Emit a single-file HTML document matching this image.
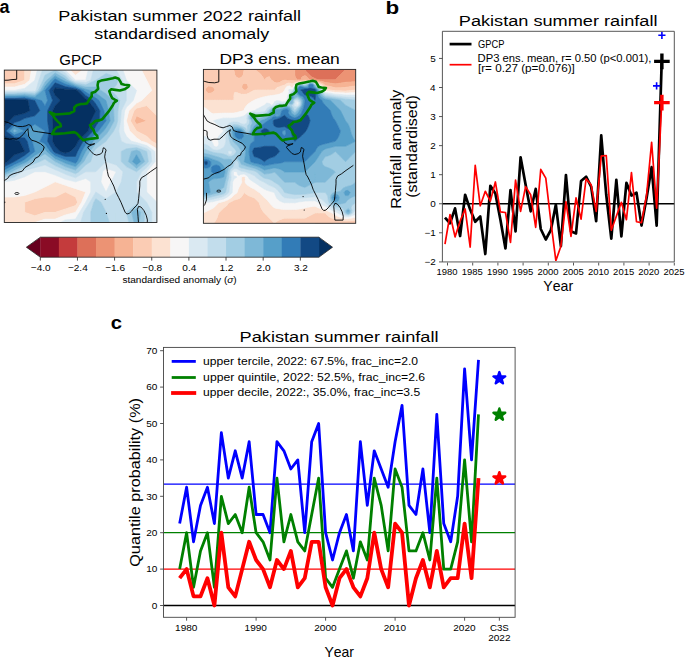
<!DOCTYPE html><html><head><meta charset="utf-8"><title>Pakistan summer 2022 rainfall</title><style>
html,body{margin:0;padding:0;background:#fff;width:685px;height:657px;overflow:hidden}
svg{display:block}
text{font-family:"Liberation Sans",sans-serif;font-kerning:none;fill:#000}
</style></head><body>
<svg width="685" height="657" viewBox="0 0 685 657">
<rect width="685" height="657" fill="#fff"/>
<defs>
<clipPath id="c1"><rect x="4.3" y="70.1" width="152.6" height="152.4"/></clipPath>
<clipPath id="c2"><rect x="203.4" y="69.4" width="152.3" height="153.9"/></clipPath>
<clipPath id="cb"><rect x="442.4" y="31.3" width="231.9" height="230.6"/></clipPath>
<clipPath id="cc"><rect x="163.5" y="347.4" width="351.6" height="269.9"/></clipPath>
</defs>
<g clip-path="url(#c1)">
<rect x="4.3" y="70.1" width="152.6" height="152.4" fill="#f7f6f6"/>
<path d="M14.47 80.26L14.47 80.26L14.47 80.26L4.3 80.26L4.3 80.26L4.3 80.26ZM136.55 115.82L146.73 120.9L146.73 120.9L146.73 120.9L136.55 124.29L134.52 120.9ZM156.9 131.06L156.9 131.06L156.9 131.06L156.9 131.06ZM65.34 202.18L65.34 202.18L65.34 202.18L65.34 202.18Z" fill="#f6b394" stroke="#f6b394" stroke-width="0.6"/>
<path d="M14.47 70.1L24.65 70.1L24.65 70.1L24.65 80.26L24.65 80.26L14.47 83.65L4.3 83.65L4.3 80.26L14.47 80.26L14.47 80.26L14.47 80.26L4.3 80.26L4.3 70.1ZM75.51 70.1L75.51 70.1L75.51 70.1L75.51 70.1ZM156.9 70.1L156.9 80.26L156.9 80.26L156.9 80.26L156.9 70.1ZM156.9 100.58L156.9 100.58L156.9 100.58L156.9 100.58ZM136.55 108.2L146.73 105.66L151.81 110.74L156.9 115.82L156.9 120.9L156.9 131.06L156.9 131.06L156.9 131.06L156.9 141.22L156.9 143.76L151.81 141.22L146.73 136.14L136.55 131.06L136.55 131.06L130.45 120.9L134.01 110.74ZM134.52 120.9L136.55 124.29L146.73 120.9L146.73 120.9L146.73 120.9L136.55 115.82ZM65.34 192.02L65.34 192.02L75.51 197.1L77.55 202.18L75.51 205.57L65.34 208.95L55.17 212.34L55.17 212.34L44.99 212.34L34.82 215.73L24.65 212.34L24.65 212.34L24.65 202.18L24.65 202.18L34.82 198.79L44.99 197.1L55.17 197.1L65.34 192.02ZM65.34 202.18L65.34 202.18L65.34 202.18L65.34 202.18Z" fill="#fbccb4" stroke="#fbccb4" stroke-width="0.6"/>
<path d="M29.73 80.26L24.65 84.32L14.47 87.03L4.3 87.03L4.3 83.65L14.47 83.65L24.65 80.26L24.65 80.26L24.65 70.1L31.43 70.1ZM75.51 70.1L75.51 70.1L82.3 70.1L75.51 75.18L70.43 70.1L75.51 70.1ZM146.73 70.1L156.9 70.1L156.9 80.26L156.9 80.26L156.9 90.42L156.9 100.58L156.9 100.58L156.9 100.58L156.9 110.74L156.9 115.82L151.81 110.74L146.73 105.66L136.55 108.2L134.01 110.74L130.45 120.9L136.55 131.06L136.55 131.06L146.73 136.14L151.81 141.22L156.9 143.76L156.9 148.84L146.73 142.67L141.64 141.22L136.55 137.83L129.77 131.06L126.38 120.9L126.38 120.9L126.38 120.9L128.92 110.74L136.55 103.12L141.64 100.58L146.73 95.5L151.81 90.42L146.73 80.26L146.73 80.26L141.64 70.1ZM156.9 171.7L156.9 171.7L156.9 171.7L156.9 171.7ZM55.17 181.86L55.17 181.86L65.34 185.25L75.51 188.63L85.69 192.02L85.69 192.02L85.69 192.02L81.62 202.18L75.51 212.34L75.51 212.34L65.34 214.88L55.17 219.11L44.99 219.11L34.82 222.5L34.82 222.5L24.65 222.5L14.47 222.5L4.3 222.5L4.3 212.34L4.3 202.18L4.3 197.1L14.47 197.1L24.65 195.41L34.82 192.02L34.82 192.02L44.99 186.94L55.17 181.86ZM65.34 192.02L55.17 197.1L44.99 197.1L34.82 198.79L24.65 202.18L24.65 202.18L24.65 212.34L24.65 212.34L34.82 215.73L44.99 212.34L55.17 212.34L55.17 212.34L65.34 208.95L75.51 205.57L77.55 202.18L75.51 197.1L65.34 192.02L65.34 192.02Z" fill="#fce2d2" stroke="#fce2d2" stroke-width="0.6"/>
<path d="M34.82 70.1L37.36 70.1L34.82 80.26L34.82 80.26L24.65 88.39L14.47 90.42L14.47 90.42L4.3 90.42L4.3 90.42L4.3 87.03L14.47 87.03L24.65 84.32L29.73 80.26L31.43 70.1ZM65.34 70.1L70.43 70.1L75.51 75.18L82.3 70.1L85.69 70.1L88.23 70.1L85.69 80.26L85.69 80.26L75.51 80.26L75.51 80.26L65.34 70.1L65.34 70.1ZM126.38 70.1L136.55 70.1L141.64 70.1L146.73 80.26L146.73 80.26L151.81 90.42L146.73 95.5L141.64 100.58L136.55 103.12L128.92 110.74L126.38 120.9L126.38 120.9L126.38 120.9L129.77 131.06L136.55 137.83L141.64 141.22L146.73 142.67L156.9 148.84L156.9 151.38L156.9 161.54L156.9 171.7L156.9 171.7L156.9 171.7L156.9 181.86L156.9 192.02L156.9 202.18L156.9 202.18L156.9 202.18L146.73 192.02L146.73 192.02L146.73 181.86L146.73 171.7L146.73 171.7L155.2 161.54L154.87 151.38L146.73 145.57L136.55 142.49L131.47 141.22L126.38 136.14L123.84 131.06L123.47 120.9L124.68 110.74L126.38 107.35L133.16 100.58L136.55 90.42L126.38 80.26L126.38 80.26L122.99 70.1ZM34.82 171.7L44.99 171.7L44.99 171.7L55.17 175.09L65.34 179.32L75.51 181.86L85.69 178.47L90.77 181.86L90.77 192.02L85.69 202.18L85.69 202.18L79.58 212.34L75.51 219.11L65.34 219.96L60.25 222.5L55.17 222.5L44.99 222.5L34.82 222.5L44.99 219.11L55.17 219.11L65.34 214.88L75.51 212.34L75.51 212.34L81.62 202.18L85.69 192.02L85.69 192.02L85.69 192.02L75.51 188.63L65.34 185.25L55.17 181.86L55.17 181.86L55.17 181.86L44.99 186.94L34.82 192.02L34.82 192.02L24.65 195.41L14.47 197.1L4.3 197.1L4.3 192.02L4.3 181.86L4.3 181.86L14.47 180.17L24.65 176.78L34.82 171.7ZM106.03 168.31L116.21 171.7L116.21 171.7L116.21 171.7L111.12 181.86L106.03 192.02L106.03 192.02L106.03 192.02L100.95 181.86L102.64 171.7Z" fill="#f7f6f6" stroke="#f7f6f6" stroke-width="0.6"/>
<path d="M38.89 80.26L35.95 90.42L34.82 91.34L24.65 91.15L14.47 91.77L4.3 91.77L4.3 90.42L14.47 90.42L14.47 90.42L24.65 88.39L34.82 80.26L34.82 80.26L37.36 70.1L42.45 70.1ZM65.34 70.1L75.51 80.26L75.51 80.26L85.69 80.26L85.69 80.26L88.23 70.1L93.32 70.1L90.77 80.26L85.69 82.52L75.51 81.61L72.61 80.26L65.34 73L60.25 70.1L65.34 70.1ZM116.21 70.1L122.99 70.1L126.38 80.26L126.38 80.26L136.55 90.42L133.16 100.58L126.38 107.35L124.68 110.74L123.47 120.9L123.84 131.06L126.38 136.14L131.47 141.22L136.55 142.49L146.73 145.57L154.87 151.38L155.2 161.54L146.73 171.7L146.73 171.7L146.73 181.86L146.73 192.02L146.73 192.02L156.9 202.18L156.9 202.18L156.9 212.34L156.9 222.5L151.81 222.5L151.81 212.34L146.73 202.18L146.73 202.18L136.55 192.02L136.55 192.02L136.55 181.86L136.55 181.86L141.64 171.7L146.73 167.64L151.81 161.54L150.8 151.38L146.73 148.48L136.55 145.03L126.38 143.76L121.29 141.22L118.75 131.06L120.57 120.9L121.29 110.74L126.38 100.58L126.38 90.42L122.31 80.26L116.21 70.1L116.21 70.1ZM106.03 151.38L106.03 151.38L106.03 161.54L116.21 164.93L122.99 171.7L121.29 181.86L116.21 192.02L116.21 192.02L106.03 198.79L95.86 192.02L89.76 202.18L85.69 208.95L83.65 212.34L80.6 222.5L75.51 222.5L65.34 222.5L60.25 222.5L65.34 219.96L75.51 219.11L79.58 212.34L85.69 202.18L85.69 202.18L90.77 192.02L90.77 181.86L85.69 178.47L75.51 181.86L65.34 179.32L55.17 175.09L44.99 171.7L44.99 171.7L34.82 171.7L34.82 171.7L24.65 176.78L14.47 180.17L4.3 181.86L4.3 179.6L14.47 176.78L22.1 171.7L24.65 170.43L34.82 167.64L44.99 164.93L55.17 169.67L60.25 171.7L65.34 174.24L75.51 177.8L85.69 171.7L85.69 171.7L95.86 171.7L106.03 161.54L106.03 151.38ZM102.64 171.7L100.95 181.86L106.03 192.02L106.03 192.02L106.03 192.02L111.12 181.86L116.21 171.7L116.21 171.7L116.21 171.7L106.03 168.31ZM116.21 212.34L116.21 212.34L116.21 222.5L116.21 222.5L116.21 222.5L116.21 212.34Z" fill="#dae9f2" stroke="#dae9f2" stroke-width="0.6"/>
<path d="M44.99 70.1L55.17 70.1L60.25 70.1L65.34 73L72.61 80.26L75.51 81.61L85.69 82.52L90.77 80.26L93.32 70.1L95.86 70.1L106.03 70.1L116.21 70.1L116.21 70.1L122.31 80.26L126.38 90.42L126.38 100.58L121.29 110.74L120.57 120.9L118.75 131.06L121.29 141.22L126.38 143.76L136.55 145.03L146.73 148.48L150.8 151.38L151.81 161.54L146.73 167.64L141.64 171.7L136.55 181.86L136.55 181.86L136.55 192.02L136.55 192.02L146.73 202.18L146.73 202.18L151.81 212.34L151.81 222.5L146.73 222.5L144.18 222.5L144.69 212.34L136.55 204.21L126.38 212.34L128.92 222.5L126.38 222.5L116.21 222.5L116.21 212.34L116.21 212.34L116.21 212.34L116.21 222.5L109.42 222.5L106.03 212.34L106.03 212.34L100.95 202.18L95.86 198.79L93.83 202.18L90.77 212.34L90.77 222.5L85.69 222.5L80.6 222.5L83.65 212.34L85.69 208.95L89.76 202.18L95.86 192.02L106.03 198.79L116.21 192.02L116.21 192.02L121.29 181.86L122.99 171.7L116.21 164.93L106.03 161.54L106.03 151.38L106.03 151.38L106.03 151.38L106.03 161.54L95.86 171.7L85.69 171.7L85.69 171.7L75.51 177.8L65.34 174.24L60.25 171.7L55.17 169.67L44.99 164.93L34.82 167.64L24.65 170.43L22.1 171.7L14.47 176.78L4.3 179.6L4.3 177.34L14.47 173.39L17.02 171.7L24.65 167.89L34.82 163.57L39.91 161.54L44.99 159L48.38 161.54L55.17 165.6L65.34 170.01L70.43 171.7L75.51 173.73L78.9 171.7L85.69 164.93L90.77 161.54L93.83 151.38L95.86 148.84L106.03 141.22L106.03 141.22L113.66 131.06L116.21 125.98L117.66 120.9L117.9 110.74L119.6 100.58L116.21 95.5L111.12 90.42L116.21 85.34L118.24 80.26L116.21 76.87L106.03 73.49L95.86 80.26L95.86 80.26L85.69 84.78L75.51 82.97L69.7 80.26L65.34 75.91L55.17 70.1L44.99 75.18L42.96 80.26L38.21 90.42L34.82 93.19L24.65 92.6L14.47 93.13L4.3 93.13L4.3 91.77L14.47 91.77L24.65 91.15L34.82 91.34L35.95 90.42L38.89 80.26L42.45 70.1ZM121.29 151.38L121.29 161.54L126.38 166.62L136.55 171.7L146.73 163.57L148.42 161.54L146.73 151.38L146.73 151.38L136.55 147.57L126.38 148.84Z" fill="#c2ddec" stroke="#c2ddec" stroke-width="0.6"/>
<path d="M44.99 75.18L55.17 70.1L65.34 75.91L69.7 80.26L75.51 82.97L85.69 84.78L95.86 80.26L95.86 80.26L106.03 73.49L116.21 76.87L118.24 80.26L116.21 85.34L111.12 90.42L116.21 95.5L119.6 100.58L117.9 110.74L117.66 120.9L116.21 125.98L113.66 131.06L106.03 141.22L106.03 141.22L95.86 148.84L93.83 151.38L90.77 161.54L85.69 164.93L78.9 171.7L75.51 173.73L70.43 171.7L65.34 170.01L55.17 165.6L48.38 161.54L44.99 159L39.91 161.54L34.82 163.57L24.65 167.89L17.02 171.7L14.47 173.39L4.3 177.34L4.3 175.09L11.93 171.7L14.47 170.25L24.65 165.35L32.28 161.54L34.82 159.51L44.99 153.92L55.17 161.54L55.17 161.54L65.34 166.62L75.51 170.01L83.99 161.54L85.69 158.15L89.76 151.38L95.86 143.76L99.25 141.22L106.03 134.45L108.58 131.06L114.17 120.9L113.66 110.74L112.82 100.58L106.03 93.81L100.95 90.42L95.86 87.03L85.69 87.03L75.51 84.32L66.79 80.26L65.34 78.81L55.17 73L46.69 80.26L44.99 82.29L40.47 90.42L34.82 95.04L24.65 94.05L14.47 94.48L4.3 94.48L4.3 93.13L14.47 93.13L24.65 92.6L34.82 93.19L38.21 90.42L42.96 80.26ZM126.38 148.84L136.55 147.57L146.73 151.38L146.73 151.38L148.42 161.54L146.73 163.57L136.55 171.7L126.38 166.62L121.29 161.54L121.29 151.38ZM131.47 151.38L128.41 161.54L136.55 168.31L144.69 161.54L139.94 151.38L136.55 150.11ZM95.86 198.79L100.95 202.18L106.03 212.34L106.03 212.34L109.42 222.5L106.03 222.5L95.86 222.5L90.77 222.5L90.77 212.34L93.83 202.18ZM136.55 204.21L144.69 212.34L144.18 222.5L139.1 222.5L140.62 212.34L136.55 208.28L131.47 212.34L134.01 222.5L128.92 222.5L126.38 212.34Z" fill="#a2cde3" stroke="#a2cde3" stroke-width="0.6"/>
<path d="M55.17 73L65.34 78.81L66.79 80.26L75.51 84.32L85.69 87.03L95.86 87.03L100.95 90.42L106.03 93.81L112.82 100.58L113.66 110.74L114.17 120.9L108.58 131.06L106.03 134.45L99.25 141.22L95.86 143.76L89.76 151.38L85.69 158.15L83.99 161.54L75.51 170.01L65.34 166.62L55.17 161.54L55.17 161.54L44.99 153.92L34.82 159.51L32.28 161.54L24.65 165.35L14.47 170.25L11.93 171.7L4.3 175.09L4.3 172.83L6.84 171.7L14.47 167.35L24.65 162.81L27.19 161.54L34.82 155.44L41.6 151.38L44.99 148.84L46.69 151.38L55.17 158.64L61.95 161.54L65.34 163.23L75.51 166.62L80.6 161.54L85.69 151.38L85.69 151.38L93.32 141.22L95.86 138.68L103.49 131.06L106.03 127.67L110.1 120.9L108.58 110.74L106.03 100.58L106.03 100.58L95.86 92.96L90.77 90.42L85.69 89.29L75.51 85.68L65.34 81.53L62.8 80.26L55.17 75.91L50.08 80.26L44.99 86.36L42.73 90.42L34.82 96.89L24.65 95.5L14.47 95.84L4.3 95.84L4.3 94.48L14.47 94.48L24.65 94.05L34.82 95.04L40.47 90.42L44.99 82.29L46.69 80.26ZM14.47 129.37L17.86 131.06L14.47 132.33L12.78 131.06ZM34.82 131.06L34.82 131.06L34.82 131.06L34.82 131.06ZM136.55 150.11L139.94 151.38L144.69 161.54L136.55 168.31L128.41 161.54L131.47 151.38ZM132.48 161.54L136.55 164.93L140.62 161.54L136.55 154.77ZM136.55 208.28L140.62 212.34L139.1 222.5L136.55 222.5L134.01 222.5L131.47 212.34Z" fill="#7eb8d7" stroke="#7eb8d7" stroke-width="0.6"/>
<path d="M55.17 75.91L62.8 80.26L65.34 81.53L75.51 85.68L85.69 89.29L90.77 90.42L95.86 92.96L106.03 100.58L106.03 100.58L108.58 110.74L110.1 120.9L106.03 127.67L103.49 131.06L95.86 138.68L93.32 141.22L85.69 151.38L85.69 151.38L80.6 161.54L75.51 166.62L65.34 163.23L61.95 161.54L55.17 158.64L46.69 151.38L44.99 148.84L41.6 151.38L34.82 155.44L27.19 161.54L24.65 162.81L14.47 167.35L6.84 171.7L4.3 172.83L4.3 171.7L4.3 170.01L14.47 164.44L21.26 161.54L24.65 159.51L34.82 151.38L32.28 141.22L24.65 131.06L14.47 134.87L9.39 131.06L14.47 125.98L24.65 131.06L34.82 124.29L44.99 131.06L44.99 131.06L44.99 131.06L39.91 141.22L44.99 143.76L50.08 151.38L55.17 155.73L65.34 159.85L70.43 161.54L75.51 163.23L77.21 161.54L81.62 151.38L85.69 144.61L88.23 141.22L95.86 133.6L98.4 131.06L106.03 120.9L104 110.74L99.25 100.58L95.86 98.04L85.69 92.11L83.99 90.42L75.51 87.03L65.34 84.07L57.71 80.26L55.17 78.81L53.47 80.26L44.99 90.42L47.54 100.58L44.99 105.66L41.6 100.58L34.82 98.73L24.65 96.95L14.47 97.19L4.3 97.19L4.3 95.84L14.47 95.84L24.65 95.5L34.82 96.89L42.73 90.42L44.99 86.36L50.08 80.26ZM12.78 131.06L14.47 132.33L17.86 131.06L14.47 129.37ZM34.82 131.06L34.82 131.06L34.82 131.06L34.82 131.06ZM136.55 154.77L140.62 161.54L136.55 164.93L132.48 161.54Z" fill="#569fc9" stroke="#569fc9" stroke-width="0.6"/>
<path d="M55.17 78.81L57.71 80.26L65.34 84.07L75.51 87.03L83.99 90.42L85.69 92.11L95.86 98.04L99.25 100.58L104 110.74L106.03 120.9L98.4 131.06L95.86 133.6L88.23 141.22L85.69 144.61L81.62 151.38L77.21 161.54L75.51 163.23L70.43 161.54L65.34 159.85L55.17 155.73L50.08 151.38L44.99 143.76L39.91 141.22L44.99 131.06L44.99 131.06L44.99 131.06L34.82 124.29L24.65 131.06L14.47 125.98L9.39 131.06L14.47 134.87L24.65 131.06L32.28 141.22L34.82 151.38L24.65 159.51L21.26 161.54L14.47 164.44L4.3 170.01L4.3 166.62L14.47 161.54L14.47 161.54L24.65 155.44L29.73 151.38L27.19 141.22L24.65 137.83L14.47 137.41L6 131.06L14.47 122.59L19.56 120.9L24.65 118.36L34.82 115.82L39.91 110.74L34.82 100.58L34.82 100.58L24.65 98.4L14.47 98.55L4.3 98.55L4.3 97.19L14.47 97.19L24.65 96.95L34.82 98.73L41.6 100.58L44.99 105.66L47.54 100.58L44.99 90.42L53.47 80.26ZM49.06 90.42L52.62 100.58L47.54 110.74L47.54 120.9L49.06 131.06L47.54 141.22L53.47 151.38L55.17 152.83L65.34 156.46L75.51 156.46L77.55 151.38L83.14 141.22L85.69 138.68L93.32 131.06L95.86 125.98L99.25 120.9L99.93 110.74L95.86 103.97L93.32 100.58L85.69 95.5L80.6 90.42L75.51 88.39L65.34 86.61L55.17 82.8Z" fill="#327cb7" stroke="#327cb7" stroke-width="0.6"/>
<path d="M55.17 82.8L65.34 86.61L75.51 88.39L80.6 90.42L85.69 95.5L93.32 100.58L95.86 103.97L99.93 110.74L99.25 120.9L95.86 125.98L93.32 131.06L85.69 138.68L83.14 141.22L77.55 151.38L75.51 156.46L65.34 156.46L55.17 152.83L53.47 151.38L47.54 141.22L49.06 131.06L47.54 120.9L47.54 110.74L52.62 100.58L49.06 90.42ZM53.13 90.42L55.17 95.5L60.25 100.58L55.17 105.66L52.62 110.74L52.62 120.9L53.13 131.06L52.62 141.22L55.17 146.3L60.25 151.38L65.34 153.07L70.43 151.38L75.51 146.3L78.06 141.22L85.69 133.6L88.23 131.06L90.77 120.9L95.86 110.74L88.23 100.58L85.69 98.89L77.21 90.42L75.51 89.74L65.34 89.15L55.17 87.88ZM14.47 98.55L24.65 98.4L34.82 100.58L34.82 100.58L39.91 110.74L34.82 115.82L24.65 118.36L19.56 120.9L14.47 122.59L6 131.06L14.47 137.41L24.65 137.83L27.19 141.22L29.73 151.38L24.65 155.44L14.47 161.54L14.47 161.54L4.3 166.62L4.3 163.23L7.69 161.54L14.47 154.77L24.65 151.38L19.56 141.22L14.47 139.95L4.3 136.14L4.3 131.06L4.3 125.98L9.39 120.9L14.47 115.82L24.65 113.28L29.73 110.74L28.04 100.58L24.65 99.85L14.47 99.9L4.3 99.9L4.3 98.55Z" fill="#124984" stroke="#124984" stroke-width="0.6"/>
<path d="M55.17 87.88L65.34 89.15L75.51 89.74L77.21 90.42L85.69 98.89L88.23 100.58L95.86 110.74L90.77 120.9L88.23 131.06L85.69 133.6L78.06 141.22L75.51 146.3L70.43 151.38L65.34 153.07L60.25 151.38L55.17 146.3L52.62 141.22L53.13 131.06L52.62 120.9L52.62 110.74L55.17 105.66L60.25 100.58L55.17 95.5L53.13 90.42ZM14.47 99.9L24.65 99.85L28.04 100.58L29.73 110.74L24.65 113.28L14.47 115.82L9.39 120.9L4.3 125.98L4.3 120.9L4.3 110.74L4.3 100.58L4.3 99.9ZM14.47 139.95L19.56 141.22L24.65 151.38L14.47 154.77L7.69 161.54L4.3 163.23L4.3 161.54L4.3 151.38L4.3 141.22L4.3 136.14Z" fill="#053061" stroke="#053061" stroke-width="0.6"/>
<g fill="none" stroke="#000" stroke-width="0.9" stroke-linejoin="round">
<polyline points="16.7,69 16.7,79.3 12,79.6 8,80.2 3,80.3"/>
<polyline points="3,121.2 8.6,122.7 13.1,125 17.7,126.4 22.3,126.6 25.9,125.9 28.7,124.6 30.9,125.5 32.3,129.1 33.2,131 38.7,131.9 45.1,132.8 51.5,133.8"/>
<polyline points="3,138.3 9.5,139.2 13.1,138.7 16.8,139.2 19.5,137.8 23.2,134.6 25.9,131 27.9,128.7 28.2,131.9 28.7,136.4 31.4,140.1 36,141.5 40.5,143.7 44.2,146.9 43.3,150.1 40.5,153.8 38.7,156.5 35.1,158.4 33.2,162 29.6,164.7 25,167.5 22.3,171.1 17.7,172.5 13.1,173.9 9.5,175.7 7.7,178.4 3,181.5"/>
<polyline points="84.6,140.9 86.4,143.2 89.2,144.6 92.8,144.1 94.7,143.7 91.9,145 88.3,146.4 87.8,147.8 91,151.4 93.7,154.2 96.5,155.1 100.1,154.2 102.4,152.4 102.9,149.6 103.3,147.8 104.7,148.2 106.1,150.1 105.2,153.3 104.7,156.9 105.6,161.5 106.5,166 107.4,171.5 108.4,176.1 110.2,178.8 112,182.5 113.8,186.1 115.7,191.6 116.3,192.9 118.7,197.6 121,202.3 123.4,208.1 125.1,212.2 126.9,214 129.2,213.4 131.6,211.1 133.9,208.1 136.3,205.8 138,203.4 138.6,198.8 139.2,192.9 139.8,185.9 139.8,181.2 141.5,177.7 145.7,175.3 150.3,171.8 158,166.5"/>
<polyline points="3,201.5 5.2,202.3 3,203.5"/>
<polygon points="138.6,206.4 141,207 143.9,210.5 146.2,215.2 147.4,219.9 147.2,224 138.6,224 138,216.3 137.4,209.3"/>
</g>
<ellipse cx="16.9" cy="193.5" rx="2" ry="1" fill="none" stroke="#000" stroke-width="0.8"/>
<circle cx="105.2" cy="199.3" r="0.6" fill="#000"/>
<circle cx="106.4" cy="213.4" r="0.6" fill="#000"/>
<polygon points="49.7,112.2 55.6,114.5 62.6,114 69.7,113.4 74.3,111 74.3,107.5 76.7,105.2 81,104 83.5,104 87,103.4 89.4,99.3 91.7,96.4 91.7,92.9 95.2,91.7 98.2,88.8 97.6,85.2 98.2,81.7 101.1,80.6 107,79.4 112.8,78.2 115.2,77.6 118.7,78.8 120.4,81.7 121.6,84.1 124.5,84.7 129.2,85.2 128.1,87 124.5,89.3 119.9,90.5 115.2,89.9 111.1,89.3 109.3,91.1 110.5,94.6 112.2,98.1 115.2,99.9 116.9,100.7 114,102.8 112.8,105.2 110.5,108.7 108.1,112.2 105.2,115.7 102.3,119.2 98.8,120.4 95.2,121 92.9,123.3 90,125.1 91.7,128 93.5,129.8 94.7,133.3 97,135.7 97.6,138 91.7,138.6 87,139.2 83.5,140.3 81,138 76.7,133.3 74.3,132.1 65,133.3 56.8,133.9 52.1,133.9 54.4,129.8 56.8,127.4 60.9,126.3 60.3,123.9 57.9,121.6 55.6,119.2 53.2,115.7" fill="none" stroke="#008000" stroke-width="2.6" stroke-linejoin="round"/>
</g>
<rect x="4.3" y="70.1" width="152.6" height="152.4" fill="none" stroke="#222" stroke-width="0.9"/>
<g clip-path="url(#c2)">
<rect x="203.4" y="69.4" width="152.3" height="153.9" fill="#f7f6f6"/>
<path d="M307.47 69.4L310.01 69.4L312.55 69.4L315.09 69.4L317.62 69.4L320.16 69.4L322.7 69.4L325.24 69.4L327.78 69.4L330.32 69.4L332.86 69.4L335.39 69.4L337.93 69.4L340.47 69.4L343.01 69.4L345.55 69.4L348.08 69.4L350.62 69.4L353.16 69.4L355.7 69.4L355.7 69.4L353.16 69.4L350.62 69.4L348.08 69.4L345.55 69.4L343.01 71.96L343.01 71.97L340.47 74.53L340.47 74.53L337.93 77.09L337.93 77.09L335.39 79.66L335.39 79.66L332.86 79.66L332.86 79.66L330.32 79.66L327.78 79.66L325.24 79.66L322.7 79.66L320.16 79.65L317.62 79.45L315.09 78.56L312.55 77.3L311.93 77.09L310.01 75.43L309.24 74.53L307.47 72.65L306.52 71.97L304.94 69.4Z" fill="#dd7059" stroke="#dd7059" stroke-width="0.6"/>
<path d="M297.32 69.4L299.86 69.4L302.39 69.4L304.93 69.4L304.94 69.4L306.52 71.97L307.47 72.65L309.24 74.53L310.01 75.43L311.93 77.09L312.55 77.3L315.09 78.56L317.62 79.45L320.16 79.65L322.7 79.66L325.24 79.66L327.78 79.66L330.32 79.66L332.86 79.66L332.86 79.66L335.39 79.66L335.39 79.66L337.93 77.09L337.93 77.09L340.47 74.53L340.47 74.53L343.01 71.97L343.01 71.96L345.55 69.4L348.08 69.4L350.62 69.4L353.16 69.4L355.7 69.4L355.7 71.97L355.7 74.53L355.7 77.09L355.7 79.66L355.7 81.71L353.16 81.82L350.62 81.94L348.08 82.07L345.55 82.23L345.55 82.23L343.01 82.68L340.47 83.08L337.93 83.44L335.39 83.76L332.86 83.39L330.32 83.08L327.78 82.82L325.24 82.59L324.61 82.23L322.7 81.53L320.16 81.02L317.62 80.68L315.09 80.24L312.55 79.81L310.01 79.68L309.55 79.66L307.47 77.55L307.3 77.09L304.93 75.55L302.39 76.67L301.76 77.09L301.1 79.66L299.86 79.83L297.32 79.7L297.12 79.66L295.33 77.09L294.79 74.53L294.78 71.97L294.78 69.4Z" fill="#ec9374" stroke="#ec9374" stroke-width="0.6"/>
<path d="M205.94 69.4L208.48 69.4L211.02 69.4L213.55 69.4L213.55 69.4L213.55 69.4L211.02 69.4L208.48 69.4L205.94 69.4L203.4 69.4L203.4 69.4ZM233.86 69.4L236.4 69.4L238.94 69.4L241.47 69.4L244.01 69.4L246.55 69.4L249.09 69.4L251.63 69.4L254.17 69.4L256.7 69.4L259.24 69.4L261.78 69.4L264.32 69.4L266.86 69.4L269.4 69.4L271.94 69.4L274.47 69.4L277.01 69.4L279.55 69.4L282.09 69.4L284.63 69.4L287.16 69.4L289.7 69.4L292.24 69.4L294.78 69.4L294.78 69.4L294.78 71.97L294.79 74.53L295.33 77.09L297.12 79.66L297.32 79.7L299.86 79.83L301.1 79.66L301.76 77.09L302.39 76.67L304.93 75.55L307.3 77.09L307.47 77.55L309.55 79.66L310.01 79.68L312.55 79.81L315.09 80.24L317.62 80.68L320.16 81.02L322.7 81.53L324.61 82.23L325.24 82.59L327.78 82.82L330.32 83.08L332.86 83.39L335.39 83.76L337.93 83.44L340.47 83.08L343.01 82.68L345.55 82.23L345.55 82.23L348.08 82.07L350.62 81.94L353.16 81.82L355.7 81.71L355.7 82.23L355.7 84.79L355.7 85.82L353.16 86.14L350.62 86.5L348.08 86.9L345.55 87.36L345.55 87.36L343.01 87.51L340.47 87.64L337.93 87.76L335.39 87.87L333.7 87.36L332.86 87.12L330.32 86.5L327.78 85.97L325.24 85.52L324.61 84.79L322.7 83.39L320.16 82.39L319.65 82.22L317.62 81.72L315.09 80.95L312.55 80.3L310.01 80.16L307.47 80.32L304.93 80.02L302.39 80.6L299.86 80.76L297.32 80.85L294.78 80.82L292.24 80.52L289.7 80.54L287.16 80.39L284.63 80.09L282.09 80.86L279.79 82.23L279.55 82.33L277.01 82.9L274.59 82.23L274.47 82.18L271.94 80.18L271.12 79.66L269.61 77.09L269.4 76.53L268.07 77.09L266.86 77.42L264.35 79.66L264.32 79.67L264.31 79.66L262.86 77.09L261.78 75.56L260.94 74.53L259.24 72.82L258.23 71.97L256.7 70.87L254.17 69.4L251.63 69.4L249.09 69.4L246.55 69.45L244.01 70.3L243.53 71.97L243.35 74.53L241.69 77.09L241.47 77.27L238.94 78.15L236.4 77.11L236.38 77.09L234.64 74.53L234.45 71.97L233.86 70.16L233.52 69.4ZM244.01 83.35L246.55 83.81L247.47 84.79L248.18 87.36L246.55 89.72L245.16 89.92L244.01 90.02L243.84 89.92L241.7 87.36L242.34 84.79ZM208.48 86.12L211.02 86.28L213.32 87.36L213.55 87.6L215.03 89.92L213.55 91.34L212.23 92.49L211.02 93.01L208.48 93.31L207.02 92.49L205.94 91.05L205.34 89.92L205.94 88.43L206.66 87.36ZM315.09 223.3L317.62 223.3L320.16 223.3L322.7 223.3L325.24 223.3L327.78 223.3L330.32 223.3L332.86 223.3L332.86 223.3L332.86 223.3L330.32 223.3L327.78 223.3L325.24 223.3L322.7 223.3L320.16 223.3L317.62 223.3L315.09 223.3L315.09 223.3Z" fill="#f6b394" stroke="#f6b394" stroke-width="0.6"/>
<path d="M205.94 69.4L208.48 69.4L211.02 69.4L213.55 69.4L213.55 69.4L216.09 69.4L218.63 69.4L221.17 69.4L223.71 69.4L226.25 69.4L228.78 69.4L231.32 69.4L233.52 69.4L233.86 70.16L234.45 71.97L234.64 74.53L236.38 77.09L236.4 77.11L238.94 78.15L241.47 77.27L241.69 77.09L243.35 74.53L243.53 71.97L244.01 70.3L246.55 69.45L249.09 69.4L251.63 69.4L254.17 69.4L256.7 70.87L258.23 71.97L259.24 72.82L260.94 74.53L261.78 75.56L262.86 77.09L264.31 79.66L264.32 79.67L264.35 79.66L266.86 77.42L268.07 77.09L269.4 76.53L269.61 77.1L271.12 79.66L271.94 80.18L274.47 82.18L274.59 82.23L277.01 82.9L279.55 82.33L279.79 82.23L282.09 80.86L284.63 80.09L287.16 80.39L289.7 80.54L292.24 80.52L294.78 80.82L297.32 80.85L299.86 80.76L302.39 80.6L304.93 80.02L307.47 80.32L310.01 80.16L312.55 80.3L315.09 80.95L317.62 81.72L319.65 82.22L320.16 82.39L322.7 83.39L324.61 84.79L325.24 85.52L327.78 85.97L330.32 86.5L332.86 87.12L333.7 87.36L335.39 87.87L337.93 87.76L340.47 87.64L343.01 87.51L345.55 87.36L345.55 87.36L348.08 86.9L350.62 86.5L353.16 86.14L355.7 85.82L355.7 87.36L355.7 89.92L355.7 89.92L353.16 90.22L350.62 90.49L348.08 90.73L345.55 90.95L343.01 90.9L340.47 90.85L337.93 90.81L335.39 90.78L332.86 90.35L330.32 89.92L330.32 89.92L327.78 89.13L325.24 88.45L324.61 87.36L322.7 85.26L322.07 84.79L320.16 83.76L317.62 82.77L316.62 82.23L315.09 81.66L312.55 80.79L310.01 80.64L307.47 81.18L304.93 81.79L302.39 81.76L299.86 81.7L297.32 81.99L296.31 82.23L294.78 82.8L292.24 83.67L289.7 82.91L287.16 83.25L284.76 84.79L284.63 84.93L282.09 85.68L279.55 86.64L277.47 87.36L277.01 87.64L274.53 89.92L274.47 89.95L271.94 89.93L269.4 89.92L266.86 89.92L264.32 89.92L261.78 89.92L259.24 89.92L256.7 89.96L254.17 90.27L251.63 91.42L250 92.49L249.09 92.98L246.55 94.05L244.01 94.37L241.47 94.13L238.94 93.3L236.76 92.49L236.4 92.18L234.62 92.49L233.89 95.05L233.86 97.62L233.86 100.18L233.86 100.18L231.32 100.18L228.78 100.18L226.25 100.18L223.71 100.18L221.17 100.18L218.63 100.18L216.09 100.18L213.55 100.19L211.02 100.2L208.48 100.2L205.94 100.19L203.4 100.18L203.4 100.18L203.4 97.62L203.4 95.05L203.4 92.49L203.4 89.92L203.4 87.36L203.4 84.79L203.4 82.23L203.4 79.66L203.4 77.09L203.4 74.53L203.4 71.97L203.4 69.4ZM242.34 84.79L241.7 87.36L243.84 89.92L244.01 90.02L245.16 89.92L246.55 89.72L248.18 87.36L247.47 84.79L246.55 83.81L244.01 83.35ZM206.66 87.35L205.94 88.43L205.34 89.92L205.94 91.05L207.02 92.49L208.48 93.31L211.02 93.01L212.23 92.49L213.55 91.34L215.03 89.92L213.55 87.6L213.32 87.36L211.02 86.28L208.48 86.12ZM244.01 192.52L246.55 194.57L247.4 195.09L249.09 195.94L251.63 196.92L254.17 197.65L254.17 197.65L256.7 200.21L256.71 200.22L259.24 202.78L259.24 202.78L259.97 205.35L260.94 207.91L261.78 209.62L262.29 210.47L264.32 213.04L264.32 213.04L266.86 215.6L266.86 215.61L269.4 218.17L269.4 218.17L271.94 220.73L271.94 220.74L274.47 223.3L277.01 221.25L277.86 220.74L279.55 219.88L282.09 218.9L284.63 218.17L284.63 218.17L287.16 218.17L289.7 218.17L292.24 218.17L294.78 218.17L297.32 218.17L299.86 218.17L302.39 218.17L304.93 218.17L307.47 216.89L310.01 215.6L310.01 215.6L312.55 214.32L315.09 213.04L315.09 213.04L315.09 213.04L317.62 213.04L320.16 213.04L322.7 213.04L325.24 213.04L327.5 215.6L327.78 215.84L330.32 217.44L332.01 218.17L332.86 218.47L335.39 219.2L337.93 219.88L340.47 220.37L343.01 220.74L343.01 220.74L345.55 221.02L348.08 220.89L350.62 220.74L350.64 220.74L353.16 220.56L355.7 220.37L355.7 220.74L355.7 223.3L353.16 223.3L350.62 223.3L348.08 223.3L345.55 223.3L343.01 223.3L340.47 223.3L337.93 223.3L335.39 223.3L332.86 223.3L332.86 223.3L330.32 223.3L327.78 223.3L325.24 223.3L322.7 223.3L320.16 223.3L317.62 223.3L315.09 223.3L315.09 223.3L312.55 223.3L310.01 223.3L307.47 223.3L304.93 223.3L302.39 223.3L299.86 223.3L297.32 223.3L294.78 223.3L292.24 223.3L289.7 223.3L287.16 223.3L284.63 223.3L282.09 223.3L279.55 223.3L277.01 223.3L274.47 223.3L271.94 223.3L269.4 223.3L266.86 223.3L264.32 223.3L261.78 223.3L259.24 223.3L256.7 223.3L254.17 223.3L251.63 223.3L249.09 223.3L246.55 223.3L244.01 223.3L241.47 223.3L238.94 223.3L236.4 223.3L233.86 223.3L231.32 223.3L228.78 223.3L226.25 223.3L223.71 223.3L221.17 223.3L218.63 223.3L216.09 223.3L213.55 223.3L213.55 223.3L213.55 223.3L215.58 220.73L216.09 219.88L216.94 218.17L217.9 215.6L218.63 213.04L218.63 213.04L221.17 210.47L221.17 210.47L223.71 207.91L223.71 207.91L226.25 206.2L227.09 205.34L228.78 202.78L228.78 202.78L231.32 201.75L233.86 200.22L233.86 200.22L236.4 199.62L238.94 198.68L240.63 197.65L241.47 196.92L242.89 195.08Z" fill="#fbccb4" stroke="#fbccb4" stroke-width="0.6"/>
<path d="M297.32 81.99L299.86 81.7L302.39 81.76L304.93 81.79L307.47 81.18L310.01 80.64L312.55 80.79L315.09 81.66L316.62 82.23L317.62 82.77L320.16 83.76L322.07 84.79L322.7 85.26L324.61 87.36L325.24 88.45L327.78 89.13L330.32 89.92L330.32 89.92L332.86 90.35L335.39 90.78L337.93 90.81L340.47 90.85L343.01 90.9L345.55 90.95L348.08 90.73L350.62 90.49L353.16 90.22L355.7 89.92L355.7 92.48L355.7 92.49L353.16 92.64L350.62 92.77L348.08 92.89L345.55 93L343.01 92.85L340.47 92.72L337.93 92.6L335.39 92.49L335.39 92.48L332.86 92.06L330.32 91.63L327.78 91.2L325.24 90.77L324.61 89.92L322.91 87.36L322.7 87.12L320.16 85.12L319.64 84.79L317.62 83.82L315.09 82.38L314.84 82.23L312.55 81.28L310.01 81.13L307.47 82.03L306.89 82.23L304.93 82.79L302.39 82.6L299.86 82.48L297.32 82.96L294.78 84.67L294.55 84.79L292.75 87.36L292.24 88.11L290.84 87.36L289.7 85.83L287.16 86.21L286.07 87.36L284.63 89.92L284.63 90L282.93 92.49L282.09 92.82L279.55 94.01L277.01 94.65L274.47 95.05L274.44 95.05L271.94 95.38L269.4 95.77L266.86 96.23L264.32 96.76L261.78 97.38L260.94 97.62L259.24 98.13L256.7 99.04L254.17 100.18L254.17 100.18L251.63 101.59L249.93 102.75L249.09 103.24L246.69 105.31L246.55 105.44L244.8 107.88L244.01 109.79L243.46 110.44L241.48 111.13L238.94 111.84L236.4 112.47L233.86 113L231.32 113L228.78 113L226.25 113L223.71 113L223.71 113L221.17 113.18L218.63 113.37L216.09 113.6L213.55 113.86L211.52 113L211.02 112.72L208.48 110.44L208.48 110.44L205.94 108.39L205.09 107.88L203.4 107.02L203.4 105.31L203.4 102.75L203.4 100.18L205.94 100.19L208.48 100.2L211.02 100.2L213.55 100.19L216.09 100.18L218.63 100.18L221.17 100.18L223.71 100.18L226.25 100.18L228.78 100.18L231.32 100.18L233.86 100.18L233.86 100.18L233.86 97.62L233.89 95.05L234.62 92.49L236.4 92.18L236.76 92.48L238.94 93.3L241.48 94.13L244.01 94.37L246.55 94.05L249.09 92.98L250 92.49L251.63 91.42L254.17 90.27L256.7 89.96L259.24 89.92L261.78 89.92L264.32 89.92L266.86 89.92L269.4 89.92L271.94 89.93L274.47 89.95L274.53 89.92L277.01 87.64L277.47 87.36L279.55 86.64L282.09 85.68L284.63 84.93L284.76 84.79L287.16 83.25L289.7 82.91L292.24 83.67L294.78 82.8L296.31 82.22ZM287.16 92.48L287.17 92.49L287.16 92.49L287.15 92.49ZM244.01 176.26L245.18 177.13L245.3 179.69L245.01 182.26L246.55 184.38L246.96 184.83L249.09 186.36L250.78 187.39L251.63 187.86L254.17 189.1L255.44 189.95L256.7 190.81L259.24 192.52L259.24 192.52L261.78 195.08L261.78 195.09L264.32 197.65L264.32 197.65L266.86 199.85L267.22 200.22L269.4 202.78L269.4 202.78L271.57 205.34L271.94 205.71L274.47 207.91L274.47 207.91L277.01 208.48L279.55 208.94L282.09 209.31L284.63 209.62L287.16 209.62L289.7 209.62L292.24 209.62L294.78 209.62L297.32 209.31L299.86 208.94L302.39 208.48L304.93 207.91L304.93 207.91L307.47 207.34L310.01 206.88L312.55 206.51L315.09 206.2L317.62 207.57L318.47 207.91L320.16 208.48L322.7 209.13L325.24 209.62L326.69 210.47L327.78 211.07L330.32 212.31L332.01 213.04L332.86 213.64L335.39 215.09L336.24 215.61L337.93 216.46L340.47 217.44L342.99 218.17L343.01 218.18L345.55 218.77L348.08 218.56L350.62 218.23L351.04 218.17L353.16 217.85L355.7 217.44L355.7 218.17L355.7 220.37L353.16 220.56L350.64 220.74L350.62 220.74L348.08 220.89L345.55 221.02L343.01 220.74L343.01 220.74L340.47 220.37L337.93 219.88L335.39 219.2L332.86 218.47L332.01 218.17L330.32 217.44L327.78 215.84L327.5 215.6L325.24 213.04L322.7 213.04L320.16 213.04L317.62 213.04L315.09 213.04L315.09 213.04L315.09 213.04L312.55 214.32L310.01 215.6L310.01 215.6L307.47 216.89L304.93 218.17L302.39 218.17L299.86 218.17L297.32 218.17L294.78 218.17L292.24 218.17L289.7 218.17L287.16 218.17L284.63 218.17L284.63 218.17L282.09 218.9L279.55 219.88L277.86 220.74L277.01 221.25L274.47 223.3L271.94 220.74L271.94 220.73L269.4 218.17L269.4 218.17L266.86 215.61L266.86 215.6L264.32 213.04L264.32 213.04L262.29 210.47L261.78 209.62L260.94 207.91L259.97 205.34L259.24 202.78L259.24 202.78L256.71 200.22L256.7 200.21L254.17 197.65L254.17 197.65L251.63 196.92L249.09 195.94L247.4 195.09L246.55 194.57L244.01 192.52L242.89 195.09L241.47 196.92L240.63 197.65L238.94 198.68L236.4 199.62L233.86 200.22L233.86 200.22L231.32 201.75L228.78 202.78L228.78 202.78L227.09 205.34L226.25 206.2L223.71 207.91L223.71 207.91L221.17 210.47L221.17 210.47L218.63 213.04L218.63 213.04L217.9 215.6L216.94 218.17L216.09 219.88L215.58 220.74L213.55 223.3L213.55 223.3L211.02 223.3L208.48 223.3L205.94 223.3L203.4 223.3L203.4 220.74L203.4 218.17L203.4 215.6L203.4 213.04L203.4 213.04L205.94 211.76L208.48 210.47L208.48 210.47L211.02 209.19L213.55 207.91L213.55 207.91L216.09 205.34L216.09 205.34L218.63 202.78L218.63 202.78L221.17 202.14L223.71 201.5L226.25 200.58L227.09 200.22L228.78 199.36L231.32 197.65L231.32 197.65L233.86 195.09L233.86 195.09L236.4 193.31L237.24 192.52L237.92 189.95L238.94 187.39L238.94 187.39L240.57 184.82L241.48 182.97L241.96 182.26L241.47 180.44L241.43 179.69L241.47 178.77L241.59 177.13Z" fill="#fce2d2" stroke="#fce2d2" stroke-width="0.6"/>
<path d="M307.47 82.03L310.01 81.13L312.55 81.28L314.84 82.23L315.09 82.38L317.62 83.82L319.64 84.79L320.16 85.12L322.7 87.12L322.91 87.36L324.61 89.92L325.24 90.77L327.78 91.2L330.32 91.63L332.86 92.06L335.39 92.48L335.39 92.49L337.93 92.6L340.47 92.72L343.01 92.85L345.55 93L348.09 92.89L350.62 92.77L353.16 92.64L355.7 92.49L355.7 92.48L355.7 92.49L355.7 95.05L353.16 95.05L350.62 95.05L348.08 95.05L345.55 95.05L343.01 94.81L340.47 94.58L337.93 94.38L335.39 94.2L332.86 93.77L330.32 93.34L327.78 92.91L325.24 92.49L325.24 92.48L323.34 89.92L322.7 88.99L321.23 87.36L320.16 86.49L317.62 84.87L317.55 84.79L315.09 83.14L313.64 82.23L312.55 81.78L310.01 81.61L308.43 82.23L307.47 82.76L304.93 83.54L302.39 83.24L299.86 83.07L297.32 83.88L296.02 84.79L294.78 86.26L293.95 87.36L292.24 89.85L289.7 89.36L288.82 89.92L289.27 92.49L287.99 95.05L287.34 97.62L287.16 99.17L286.86 100.18L284.63 101.66L282.09 101.99L279.55 100.97L277.01 100.62L274.47 101.74L274.09 102.75L272.11 105.31L271.94 105.38L271.51 105.31L269.4 103.57L266.86 102.93L264.34 105.31L264.32 105.34L261.78 106.59L259.25 107.88L259.24 107.88L256.7 109.15L254.68 110.44L254.17 110.5L251.63 111.17L249.09 112L247.48 113L246.55 113.66L244.38 115.57L244.01 116.09L241.48 116.64L238.94 117.31L236.4 117.83L233.86 118.11L231.32 118.13L228.78 118.13L226.25 118.13L223.71 118.13L223.71 118.14L221.17 118.65L218.63 119.23L216.09 119.91L213.55 120.7L216.09 123.26L216.09 123.27L218.63 125.83L218.63 125.83L221.17 128.4L221.17 128.4L223.7 130.96L221.18 133.53L221.17 133.54L218.82 136.09L218.63 136.44L217.35 138.65L218.35 141.22L218.63 141.95L218.86 143.79L218.63 144.56L217.9 146.35L216.09 147.11L214.03 146.35L213.55 145.47L212.95 143.79L211.56 141.22L211.02 140.16L209.79 138.66L208.48 137.87L205.94 136.83L203.4 136.09L203.4 136.09L203.4 133.53L203.4 130.96L203.4 128.4L203.4 125.83L203.4 123.27L203.4 120.7L203.4 118.14L203.4 115.57L203.4 113L203.4 110.44L203.4 107.88L203.4 107.02L205.09 107.88L205.94 108.39L208.48 110.44L208.48 110.44L211.02 112.72L211.52 113L213.55 113.86L216.09 113.6L218.63 113.37L221.17 113.18L223.71 113L223.71 113L226.24 113L228.78 113L231.32 113L233.86 113L236.4 112.47L238.94 111.84L241.48 111.13L243.46 110.44L244.01 109.79L244.8 107.88L246.55 105.44L246.69 105.31L249.09 103.24L249.93 102.75L251.63 101.59L254.17 100.18L254.17 100.18L256.71 99.04L259.24 98.13L260.94 97.62L261.78 97.38L264.32 96.76L266.86 96.23L269.4 95.77L271.94 95.38L274.44 95.05L274.47 95.05L277.01 94.65L279.55 94.01L282.09 92.82L282.93 92.49L284.63 90L284.63 89.92L286.07 87.36L287.16 86.21L289.7 85.83L290.84 87.35L292.24 88.11L292.75 87.36L294.55 84.79L294.78 84.67L297.32 82.96L299.86 82.48L302.39 82.6L304.93 82.79L306.89 82.23ZM287.15 92.49L287.16 92.49L287.17 92.49L287.16 92.48ZM297.32 101.96L298.06 102.75L297.51 105.31L297.32 105.46L296.83 105.31L296.25 102.75ZM233.86 171.56L236.4 171.63L236.93 172L237.68 174.56L238.94 175.59L240.53 174.56L241.47 174.36L244.01 173.94L245.27 174.56L246.55 175.4L248.33 177.13L249.09 178.7L250.36 179.69L251.63 180.65L254.17 182.26L254.17 182.26L256.7 183.97L257.97 184.82L259.24 185.68L261.78 187.39L261.78 187.39L264.32 189.1L266.35 189.95L266.86 190.15L269.4 191.05L271.94 191.84L274.47 192.52L274.47 192.52L275.25 195.09L276.5 197.65L277.01 198.38L278.82 200.22L279.55 200.73L282.09 201.99L284.63 202.78L287.16 202.78L289.7 202.78L292.24 202.78L294.78 202.78L297.32 202.29L299.86 201.85L302.39 201.44L304.93 201.07L307.47 201L310.01 200.91L312.55 200.83L315.09 200.73L317.62 202.18L318.47 202.78L320.16 203.92L322.7 205.22L322.98 205.34L325.24 206.2L327.78 207.91L327.78 207.91L330.32 209.38L332.49 210.47L332.86 210.65L335.39 211.76L337.93 213.04L337.93 213.04L340.47 214.51L342.77 215.6L343.01 215.7L345.55 216.85L348.08 216.95L350.62 216.34L352.51 215.6L353.16 215.28L355.7 214.52L355.7 215.6L355.7 217.44L353.16 217.85L351.04 218.17L350.62 218.23L348.08 218.56L345.55 218.77L343.01 218.18L342.99 218.17L340.47 217.44L337.93 216.46L336.24 215.61L335.39 215.09L332.86 213.64L332.01 213.04L330.32 212.31L327.78 211.07L326.69 210.48L325.24 209.62L322.7 209.13L320.16 208.48L318.47 207.91L317.62 207.57L315.09 206.2L312.55 206.51L310.01 206.88L307.47 207.34L304.93 207.91L304.93 207.91L302.39 208.48L299.86 208.94L297.32 209.31L294.78 209.62L292.24 209.62L289.7 209.62L287.16 209.62L284.63 209.62L282.09 209.31L279.55 208.94L277.01 208.48L274.47 207.91L274.47 207.91L271.93 205.71L271.57 205.34L269.4 202.78L269.4 202.78L267.22 200.22L266.86 199.85L264.32 197.65L264.32 197.65L261.78 195.09L261.78 195.08L259.24 192.52L259.24 192.52L256.7 190.81L255.44 189.95L254.17 189.1L251.63 187.86L250.78 187.39L249.09 186.36L246.96 184.82L246.55 184.38L245.01 182.26L245.3 179.69L245.18 177.13L244.01 176.26L241.59 177.13L241.47 178.77L241.43 179.69L241.47 180.44L241.96 182.26L241.48 182.97L240.57 184.82L238.94 187.39L238.94 187.39L237.92 189.95L237.24 192.52L236.4 193.31L233.86 195.08L233.86 195.09L231.32 197.65L231.32 197.65L228.78 199.36L227.09 200.22L226.25 200.58L223.71 201.5L221.17 202.14L218.63 202.78L218.63 202.78L216.09 205.34L216.09 205.34L213.55 207.91L213.55 207.91L211.02 209.19L208.48 210.47L208.48 210.47L205.94 211.76L203.4 213.04L203.4 210.47L203.4 207.91L203.4 205.34L203.4 202.78L203.4 202.78L205.94 202.51L208.48 202.21L211.01 201.87L213.55 201.5L216.09 200.86L218.63 200.22L218.63 200.22L221.17 199.57L223.71 198.93L226.24 197.65L226.25 197.65L228.78 195.94L229.8 195.09L231.32 193.55L232.17 192.52L232.3 189.95L232.41 187.39L232.5 184.82L232.58 182.26L233.72 179.69L233.86 178.94L236.4 177.58L236.83 177.13L236.4 176.54L233.86 175.87L233.49 174.56L233.49 172Z" fill="#f7f6f6" stroke="#f7f6f6" stroke-width="0.6"/>
<path d="M310.01 81.61L312.55 81.78L313.64 82.23L315.09 83.14L317.55 84.79L317.62 84.87L320.16 86.49L321.23 87.36L322.7 88.99L323.34 89.92L325.24 92.48L325.24 92.49L327.78 92.91L330.32 93.34L332.86 93.77L335.39 94.19L337.93 94.38L340.47 94.58L343.01 94.81L345.55 95.05L348.08 95.05L350.62 95.05L353.16 95.05L355.7 95.05L355.7 95.05L355.7 97.62L353.16 97.46L350.62 97.33L348.08 97.21L345.55 97.1L343.01 96.76L340.47 96.45L337.93 96.17L335.39 95.91L332.86 95.48L330.32 95.05L330.32 95.05L327.78 94.62L325.24 94.19L323.65 92.49L322.7 91.09L322.07 89.92L320.16 87.86L319.57 87.36L317.62 85.99L316.41 84.79L315.09 83.91L312.55 82.28L311.95 82.23L310.01 82.09L309.65 82.23L307.47 83.44L304.93 84.29L302.39 83.87L299.86 83.65L297.33 84.79L297.32 84.8L295.05 87.36L294.78 87.72L293.12 89.92L292.24 91.16L290.81 92.49L289.77 95.05L289.7 95.46L289.03 97.62L287.92 100.18L287.16 102.36L286.64 102.75L284.63 103.53L282.09 103.81L279.55 103.3L277.01 103.45L275.11 105.31L274.47 105.61L271.94 106.64L269.4 107.01L267.67 107.88L266.86 108.8L265.9 110.44L264.32 111.72L261.78 112.15L259.24 112.6L256.7 112.73L254.17 112.35L251.63 112.99L251.61 113L249.09 113.93L247.26 115.57L246.88 118.14L247.3 120.7L246.68 123.27L246.55 123.41L244.01 124.45L241.47 123.81L240.14 123.27L238.94 122.57L236.4 122.09L233.86 121.99L231.32 122.48L229.34 123.27L228.78 123.63L227.09 125.83L226.33 128.4L226.25 128.88L225.96 130.96L225.91 133.53L225.87 136.09L225.83 138.66L225.8 141.22L225.32 143.79L224.42 146.35L223.71 147.37L221.17 148.84L221.07 148.92L218.63 149.95L216.09 150.24L213.55 149.65L212.21 148.92L211.02 147.9L209.02 146.35L208.48 145.78L205.94 144.54L203.4 143.8L203.4 143.79L203.4 141.22L203.4 138.66L203.4 136.09L205.94 136.83L208.48 137.87L209.79 138.66L211.02 140.16L211.56 141.22L212.95 143.79L213.55 145.47L214.03 146.35L216.09 147.11L217.9 146.35L218.63 144.56L218.86 143.79L218.63 141.95L218.35 141.22L217.35 138.66L218.63 136.44L218.82 136.09L221.17 133.54L221.18 133.53L223.7 130.96L221.17 128.4L221.17 128.4L218.63 125.83L218.63 125.83L216.09 123.27L216.09 123.26L213.55 120.7L216.09 119.91L218.63 119.23L221.17 118.65L223.71 118.14L223.71 118.13L226.25 118.13L228.78 118.13L231.32 118.13L233.86 118.11L236.4 117.83L238.94 117.31L241.48 116.64L244.01 116.09L244.38 115.57L246.55 113.66L247.48 113L249.09 112L251.63 111.17L254.17 110.5L254.68 110.44L256.7 109.15L259.24 107.88L259.25 107.88L261.78 106.59L264.32 105.34L264.34 105.31L266.86 102.93L269.4 103.57L271.51 105.31L271.94 105.38L272.11 105.31L274.09 102.75L274.47 101.74L277.01 100.62L279.55 100.97L282.09 101.99L284.63 101.66L286.86 100.18L287.16 99.17L287.34 97.62L287.99 95.05L289.27 92.49L288.82 89.92L289.7 89.36L292.24 89.85L293.95 87.36L294.78 86.26L296.02 84.79L297.32 83.88L299.86 83.07L302.39 83.24L304.93 83.54L307.47 82.76L308.43 82.23ZM297.32 100.12L297.4 100.18L299.81 102.75L299.14 105.31L297.32 106.7L294.78 106.77L293.77 105.31L294.44 102.75L294.78 100.44L296.2 100.18ZM296.25 102.75L296.83 105.31L297.32 105.46L297.51 105.31L298.06 102.75L297.32 101.96ZM228.78 150.78L231.32 150.98L232.03 151.48L231.61 154.05L231.32 154.25L228.78 154.31L228.4 154.05L227.97 151.48ZM236.4 161.76L236.67 164.31L236.4 164.69L236.13 164.31ZM233.86 168.69L236.4 168.58L238.06 169.44L238.94 170.01L241.48 171.28L244.01 171.48L245.96 172L246.55 172.18L249.09 173.23L251.63 174.34L252.19 174.56L254.17 175.42L255.86 177.13L256.7 177.86L259.24 179.69L259.24 179.69L261.78 181.12L264.32 182.26L264.32 182.26L266.86 183.84L268.67 184.82L269.4 185.19L271.94 186.36L274.47 187.39L274.47 187.39L277.01 189.59L277.37 189.95L279.55 192.52L279.55 192.52L281.5 195.09L282.09 195.68L284.63 197.65L284.63 197.65L287.16 197.95L289.7 198.22L292.24 198.46L294.78 198.68L297.32 198.38L299.86 198.12L302.39 197.87L304.93 197.65L304.93 197.65L307.47 197.43L310.01 197.18L312.55 196.92L315.09 196.62L317.62 197.35L318.47 197.65L320.16 198.38L322.7 199.98L322.98 200.22L325.23 202.78L325.24 202.79L327.78 204.78L328.59 205.35L330.32 206.48L332.83 207.91L332.86 207.92L335.39 209.2L337.93 210L339.07 210.47L340.47 211.19L342.45 213.04L343.01 213.36L345.55 215.19L348.08 215.53L350.62 214.85L353.07 213.04L353.16 212.65L355 210.47L355.7 209.65L355.7 210.47L355.7 213.04L355.7 214.52L353.16 215.28L352.51 215.6L350.62 216.34L348.08 216.95L345.55 216.85L343.01 215.7L342.77 215.6L340.47 214.51L337.93 213.04L337.93 213.04L335.39 211.76L332.86 210.65L332.49 210.47L330.32 209.38L327.78 207.91L327.78 207.91L325.24 206.2L322.98 205.34L322.7 205.22L320.16 203.92L318.47 202.78L317.62 202.18L315.09 200.73L312.55 200.83L310.01 200.91L307.47 201L304.93 201.07L302.39 201.44L299.86 201.85L297.32 202.29L294.78 202.78L292.24 202.78L289.7 202.78L287.16 202.78L284.63 202.78L282.09 201.99L279.55 200.73L278.82 200.22L277.01 198.38L276.5 197.65L275.25 195.09L274.47 192.52L274.47 192.52L271.94 191.84L269.4 191.05L266.86 190.15L266.35 189.95L264.32 189.1L261.78 187.39L261.78 187.39L259.24 185.68L257.97 184.82L256.7 183.97L254.17 182.26L254.17 182.26L251.63 180.65L250.36 179.69L249.09 178.7L248.33 177.13L246.55 175.4L245.27 174.56L244.01 173.94L241.47 174.36L240.53 174.56L238.94 175.59L237.68 174.56L236.93 172L236.4 171.63L233.86 171.56L233.49 172L233.49 174.56L233.86 175.87L236.4 176.54L236.83 177.13L236.4 177.58L233.86 178.94L233.72 179.69L232.58 182.26L232.5 184.82L232.41 187.39L232.3 189.95L232.17 192.52L231.32 193.55L229.8 195.09L228.78 195.94L226.25 197.65L226.24 197.65L223.71 198.93L221.17 199.57L218.63 200.22L218.63 200.22L216.09 200.86L213.55 201.5L211.02 201.87L208.48 202.21L205.94 202.51L203.4 202.78L203.4 200.73L205.94 200.35L206.78 200.22L208.48 199.93L211.01 199.46L213.55 198.93L216.09 198.29L218.63 197.65L218.63 197.65L221.17 197.01L223.71 196.37L225.74 195.09L226.25 194.72L228.78 192.52L228.78 192.52L229.17 189.95L229.51 187.39L229.79 184.82L230.02 182.26L230.85 179.69L231.05 177.13L230.76 174.56L231.02 172L231.32 171.39L232.94 169.44Z" fill="#dae9f2" stroke="#dae9f2" stroke-width="0.6"/>
<path d="M310.01 82.09L311.95 82.23L312.55 82.28L315.09 83.91L316.41 84.79L317.62 85.99L319.57 87.36L320.16 87.86L322.07 89.92L322.7 91.09L323.65 92.49L325.24 94.19L327.78 94.62L330.32 95.05L330.32 95.05L332.86 95.48L335.39 95.91L337.93 96.17L340.47 96.45L343.01 96.76L345.55 97.1L348.08 97.21L350.62 97.33L353.16 97.46L355.7 97.62L355.7 97.62L355.7 100.18L355.7 100.18L355.7 100.18L353.16 99.88L350.62 99.61L348.08 99.37L345.55 99.15L343.01 98.71L340.47 98.31L337.93 97.95L335.39 97.62L335.39 97.62L332.86 97.19L330.32 96.76L327.78 96.33L325.24 95.9L324.17 95.05L322.7 93.44L322.05 92.49L320.8 89.92L320.16 89.23L317.97 87.36L317.62 87.11L315.27 84.79L315.09 84.67L312.55 82.86L310.01 82.62L307.47 84.13L305.59 84.79L304.93 85.1L303.87 84.79L302.39 84.5L299.86 84.23L298.63 84.79L297.32 85.78L295.92 87.35L294.78 88.92L294.03 89.92L292.24 92.45L292.2 92.49L290.58 95.05L290.21 97.62L289.7 98.47L288.73 100.18L288.02 102.75L287.16 104.39L284.63 104.78L282.09 105.14L279.55 105.19L279.08 105.31L277.01 105.78L274.47 106.84L271.98 107.88L271.94 107.89L269.4 109.34L268.37 110.44L266.86 112.42L266.11 113L264.32 114.28L261.78 114.88L259.24 115.47L256.7 115.11L254.17 113.79L251.63 113.83L249.09 115.28L248.76 115.57L248.42 118.13L249.09 119.63L249.7 120.7L249.48 123.27L249.09 123.96L247.52 125.83L247.36 128.4L246.9 130.96L246.55 131.07L246.43 130.96L245.95 128.4L244.01 127.2L241.47 126.25L240.16 125.83L238.94 125.26L236.4 124.66L233.86 124.53L231.54 125.83L231.32 126L229.29 128.4L228.78 129.39L228.17 130.96L228.35 133.53L228.62 136.09L228.78 137.11L229.03 138.66L229.66 141.22L230.42 143.79L231.32 145.62L231.86 146.35L233.86 147.91L234.69 148.92L236.4 151.39L236.46 151.48L236.4 151.56L234.86 154.05L233.86 155.04L231.32 156.37L228.78 156.4L226.25 155.09L223.71 154.17L223.29 154.05L221.17 153.53L218.63 153.26L216.09 153L213.55 152.47L211.01 151.62L210.57 151.48L208.48 150.57L205.94 149.64L203.4 148.93L203.4 148.92L203.4 146.35L203.4 143.8L205.94 144.54L208.48 145.78L209.02 146.35L211.02 147.9L212.21 148.92L213.55 149.65L216.09 150.24L218.63 149.95L221.07 148.92L221.17 148.84L223.71 147.37L224.42 146.35L225.32 143.79L225.8 141.22L225.83 138.66L225.87 136.09L225.91 133.53L225.96 130.96L226.25 128.88L226.33 128.4L227.09 125.83L228.78 123.63L229.34 123.27L231.32 122.48L233.86 121.99L236.4 122.09L238.94 122.57L240.14 123.27L241.47 123.81L244.01 124.45L246.55 123.41L246.68 123.27L247.3 120.7L246.88 118.14L247.26 115.57L249.09 113.93L251.61 113L251.63 112.99L254.17 112.35L256.7 112.73L259.24 112.6L261.78 112.15L264.32 111.72L265.9 110.44L266.86 108.8L267.67 107.88L269.4 107.01L271.94 106.64L274.47 105.61L275.11 105.31L277.01 103.45L279.55 103.3L282.09 103.81L284.63 103.53L286.64 102.75L287.16 102.36L287.92 100.18L289.03 97.62L289.7 95.46L289.77 95.05L290.81 92.49L292.24 91.16L293.12 89.92L294.78 87.72L295.05 87.36L297.32 84.8L297.33 84.79L299.86 83.65L302.39 83.87L304.93 84.29L307.47 83.44L309.65 82.22ZM227.97 151.48L228.4 154.05L228.78 154.31L231.32 154.25L231.61 154.05L232.03 151.48L231.32 150.98L228.78 150.78ZM294.78 99.17L297.32 98.55L299.57 100.18L299.86 100.49L300.79 102.75L300.41 105.31L299.86 106.09L297.43 107.88L297.32 108.02L294.82 110.44L294.78 110.47L294.75 110.44L293.13 107.88L292.24 106.38L291.12 105.31L292.24 104.98L293.61 102.75L293.82 100.18ZM296.2 100.18L294.78 100.44L294.44 102.75L293.77 105.31L294.78 106.77L297.32 106.7L299.14 105.31L299.81 102.75L297.4 100.18L297.32 100.12ZM236.4 160.22L238.3 161.74L238.94 163.92L239.07 164.31L238.99 166.87L241.47 168.04L244.01 168.43L246.55 169.21L247.49 169.44L249.09 169.79L251.63 170.29L254.17 170.72L256.7 172L256.71 172L259.24 174.56L259.24 174.56L261.78 176.56L262.63 177.13L264.32 178.16L266.86 178.64L269.4 179.33L270.41 179.69L271.94 180.39L274.47 182.26L274.47 182.26L277.01 183.73L278.53 184.82L279.55 185.68L281.24 187.39L282.09 188.42L283.18 189.95L284.63 192.52L284.63 192.52L287.16 193.12L289.7 193.66L292.24 194.14L294.78 194.57L297.32 194.47L299.86 194.39L302.39 194.3L304.93 194.23L307.47 193.86L310.01 193.45L312.55 193.01L315.09 192.52L317.62 192.52L320.16 192.52L322.7 192.52L325.24 192.53L327.22 195.09L327.78 197.08L327.83 197.65L328.3 200.22L329 202.78L330.32 203.77L332.86 205.33L332.88 205.34L335.39 206.72L337.93 207.01L340.47 207.46L341.94 207.91L343.01 208.44L343.69 210.47L344.51 213.04L345.55 213.84L348.08 214.65L350.62 213.6L351.38 213.04L351.98 210.47L350.94 207.91L351.98 205.34L353.16 204.5L355.7 202.78L355.7 205.34L355.7 207.91L355.7 209.65L355 210.47L353.16 212.65L353.07 213.04L350.62 214.85L348.08 215.53L345.55 215.19L343.01 213.36L342.45 213.04L340.47 211.19L339.07 210.47L337.93 210L335.39 209.2L332.86 207.92L332.83 207.91L330.32 206.48L328.59 205.35L327.78 204.78L325.24 202.79L325.23 202.78L322.98 200.22L322.7 199.98L320.16 198.38L318.47 197.65L317.62 197.35L315.09 196.62L312.55 196.92L310.01 197.18L307.47 197.43L304.93 197.65L304.93 197.65L302.39 197.87L299.86 198.12L297.32 198.38L294.78 198.68L292.24 198.46L289.7 198.22L287.16 197.95L284.63 197.65L284.63 197.65L282.09 195.68L281.5 195.09L279.55 192.52L279.55 192.52L277.37 189.95L277.01 189.59L274.47 187.39L274.47 187.39L271.94 186.36L269.4 185.19L268.67 184.82L266.86 183.84L264.32 182.26L264.32 182.26L261.78 181.12L259.24 179.69L259.24 179.69L256.7 177.86L255.86 177.13L254.17 175.42L252.19 174.56L251.63 174.34L249.09 173.23L246.55 172.18L245.96 172L244.01 171.48L241.48 171.28L238.94 170.01L238.06 169.44L236.4 168.58L233.86 168.69L232.94 169.44L231.32 171.39L231.02 172L230.76 174.56L231.05 177.13L230.85 179.69L230.02 182.26L229.79 184.82L229.51 187.39L229.17 189.96L228.78 192.52L228.78 192.52L226.25 194.72L225.74 195.09L223.71 196.37L221.17 197.01L218.63 197.65L218.63 197.65L216.09 198.29L213.55 198.93L211.02 199.46L208.48 199.93L206.78 200.22L205.94 200.35L203.4 200.73L203.4 200.22L203.4 198.68L205.94 198.19L208.48 197.65L208.48 197.65L211.02 197.05L213.55 196.37L216.09 195.73L218.63 195.09L218.63 195.08L221.17 194.44L223.71 193.8L225.4 192.52L226.05 189.95L226.24 189.1L226.61 187.39L227.09 184.82L227.49 182.26L228.27 179.69L228.72 177.13L228.78 176.38L228.89 174.56L229.33 172L230.33 169.44L231.32 168.16L233 166.87L233.71 164.31L233.86 163.89L234.48 161.74ZM236.13 164.31L236.4 164.69L236.67 164.31L236.4 161.76ZM345.55 172L345.55 172L345.55 172L345.55 172Z" fill="#c2ddec" stroke="#c2ddec" stroke-width="0.6"/>
<path d="M299.86 84.23L302.39 84.5L303.87 84.79L304.93 85.1L305.59 84.79L307.47 84.13L310.01 82.62L312.55 82.86L315.09 84.67L315.27 84.79L317.62 87.11L317.97 87.36L320.16 89.23L320.8 89.92L322.05 92.49L322.7 93.44L324.17 95.05L325.24 95.9L327.78 96.33L330.32 96.76L332.86 97.19L335.39 97.62L335.39 97.62L337.93 97.95L340.47 98.31L343.01 98.71L345.55 99.15L348.08 99.37L350.62 99.61L353.16 99.88L355.7 100.18L355.7 100.18L355.7 102.75L355.7 105.31L355.7 107.88L355.7 110.44L355.7 110.44L355.7 110.44L353.16 109.16L350.62 107.88L350.62 107.88L348.08 106.59L345.55 105.31L345.55 105.31L343.01 102.75L343.01 102.75L340.47 100.18L340.47 100.18L337.93 99.73L335.39 99.33L332.86 98.9L330.32 98.47L327.78 98.04L325.24 97.62L325.24 97.61L322.7 95.78L322.03 95.05L320.46 92.49L320.16 91.78L319.53 89.92L317.62 88.23L316.61 87.35L315.09 85.86L314.41 84.79L312.55 83.44L310.01 83.18L307.51 84.79L307.47 84.85L304.93 86.03L302.39 85.28L299.86 84.83L297.32 86.76L296.79 87.35L294.96 89.92L294.78 90.66L294.01 92.49L292.24 93.73L291.4 95.05L291.05 97.62L289.7 99.9L289.54 100.18L289.04 102.75L289.7 103.98L292.24 103.64L292.79 102.75L292.81 100.18L294.78 98.12L296.16 97.62L297.32 96.79L298.38 97.62L299.86 98.62L301.24 100.18L301.75 102.75L301.38 105.31L299.86 107.48L299.32 107.88L297.43 110.44L297.32 110.59L294.78 112.99L292.43 110.44L292.24 110.16L291.06 107.88L289.7 106.53L287.16 105.93L284.63 106.07L282.09 106.74L279.55 107.17L277.01 107.57L275.68 107.88L274.47 108.06L271.94 109.02L270.14 110.44L269.4 112.15L268.77 113L266.86 115.32L266.49 115.57L264.32 116.85L261.78 117.62L260.12 118.14L259.24 118.43L256.7 118.52L256.5 118.14L255.09 115.57L254.17 115.01L251.63 114.66L250.15 115.57L249.82 118.14L251.63 120.65L251.78 120.7L252.3 123.27L251.63 124.25L250.81 125.83L250.47 128.4L250 130.96L249.09 132.16L246.55 132.75L244.72 130.96L244.01 129.84L242.35 128.4L241.47 127.92L238.94 127.13L236.4 126.85L233.86 126.92L232.11 128.4L231.32 129.33L230.28 130.96L230.53 133.53L230.96 136.09L231.32 137.26L231.76 138.66L233.13 141.22L233.86 142.27L235.65 143.79L236.4 144.58L238.12 146.35L238.94 147.46L239.95 148.92L241.47 151.48L240.11 154.05L238.94 155.66L238.08 156.61L238.17 159.18L238.94 159.61L240.19 161.74L241.44 164.31L241.47 164.36L244.01 165.11L246.55 166.07L249.09 166.87L249.09 166.87L251.63 167.55L254.17 168.15L256.7 169.17L257.29 169.44L259.24 170.42L261.78 172L261.78 172L264.32 174.05L266.86 173.81L269.4 173.47L271.94 172.93L274.47 172L274.47 172L274.47 172L277.01 174.56L277.01 174.56L279.55 177.13L279.55 177.13L282.09 179.69L282.09 179.7L284.63 182.26L287.16 182.26L289.7 182.26L292.24 182.26L294.78 182.26L294.78 182.26L297.32 184.31L298.16 184.82L299.86 185.68L302.39 186.66L304.93 187.39L307.47 186.11L310.01 184.82L310.01 184.82L312.55 183.54L315.09 182.26L315.09 179.69L315.09 177.13L315.09 174.56L315.09 172L315.09 172L315.09 172L315.09 174.56L315.09 177.13L315.09 179.69L315.09 182.26L317.62 182.26L320.16 182.26L322.7 182.26L325.24 182.26L325.24 182.26L327.78 179.7L327.78 179.69L330.32 177.13L330.32 177.13L332.86 174.57L332.86 174.56L335.39 172L332.86 169.95L332.01 169.44L330.32 168.58L327.78 167.6L325.24 166.87L325.24 166.87L322.7 164.31L322.7 164.3L321.86 161.74L322.7 160.46L323.55 159.18L325.24 156.61L325.24 156.61L327.78 155.88L330.32 154.9L332.01 154.05L332.86 153.53L335.39 151.48L335.39 151.48L335.39 151.48L337.93 154.05L337.93 154.05L340.47 156.61L340.47 156.61L343.01 159.18L343.01 159.18L345.55 161.74L348.08 159.18L348.08 159.18L350.62 156.61L350.62 156.61L353.16 154.05L353.16 154.05L355.7 151.48L355.7 151.48L355.7 151.48L355.7 154.05L355.7 156.61L355.7 159.18L355.7 161.74L355.7 164.31L355.7 166.87L355.7 169.44L355.7 172L355.7 174.56L355.7 177.13L355.7 179.69L355.7 182.26L355.7 182.26L353.16 184.31L352.31 184.82L350.62 185.61L348.08 186.27L345.55 186.93L344.72 187.39L343.01 188.34L341.37 189.95L340.47 191.21L337.93 191.79L335.39 192.04L334.55 192.52L332.86 192.98L330.93 195.09L330.41 197.65L330.91 200.22L332.21 202.78L332.86 203.23L335.39 204.5L337.93 204.32L340.47 203.9L343.01 203.43L345.55 202.79L345.55 202.78L347.31 200.22L348.08 199.75L350.62 197.99L351.22 197.65L353.16 196.69L355.7 195.94L355.7 197.65L355.7 200.22L355.7 202.78L355.7 202.78L353.16 204.5L351.98 205.34L350.94 207.91L351.98 210.47L351.38 213.04L350.62 213.6L348.08 214.65L345.55 213.84L344.51 213.04L343.69 210.47L343.01 208.44L341.94 207.91L340.47 207.46L337.93 207.01L335.39 206.72L332.88 205.34L332.86 205.33L330.32 203.77L329 202.78L328.3 200.22L327.83 197.65L327.78 197.08L327.22 195.09L325.24 192.53L322.7 192.52L320.16 192.52L317.62 192.52L315.09 192.52L312.55 193.01L310.01 193.45L307.47 193.86L304.93 194.23L302.39 194.3L299.86 194.39L297.32 194.47L294.78 194.57L292.24 194.14L289.7 193.66L287.16 193.12L284.63 192.52L284.63 192.52L283.18 189.95L282.09 188.42L281.24 187.39L279.55 185.68L278.53 184.82L277.01 183.73L274.47 182.26L274.47 182.26L271.94 180.39L270.41 179.69L269.4 179.33L266.86 178.64L264.32 178.16L262.63 177.13L261.78 176.56L259.24 174.56L259.24 174.56L256.71 172L256.7 172L254.17 170.72L251.63 170.29L249.09 169.79L247.49 169.44L246.55 169.21L244.01 168.43L241.47 168.04L238.99 166.87L239.07 164.31L238.94 163.92L238.3 161.74L236.4 160.22L234.48 161.74L233.86 163.89L233.71 164.31L233 166.87L231.32 168.16L230.33 169.44L229.33 172L228.89 174.56L228.78 176.38L228.72 177.13L228.27 179.69L227.49 182.26L227.09 184.82L226.61 187.39L226.25 189.1L226.05 189.95L225.4 192.52L223.71 193.8L221.17 194.44L218.63 195.08L218.63 195.09L216.09 195.73L213.55 196.37L211.02 197.05L208.48 197.65L208.48 197.65L205.94 198.19L203.4 198.68L203.4 197.65L203.4 196.62L205.94 196.03L208.48 195.37L209.49 195.09L211.02 194.63L213.55 193.8L216.09 193.16L218.63 192.52L218.63 192.52L220.32 189.95L221.17 189.1L223.71 187.39L223.71 187.39L224.38 184.82L224.97 182.26L225.68 179.69L226.25 177.58L226.35 177.13L226.83 174.56L227.41 172L227.9 169.44L228.78 167.4L229.11 166.87L231.17 164.31L231.32 164.16L232.2 161.74L231.32 159.52L228.78 159.33L226.25 159.21L223.71 159.18L223.71 159.18L221.17 158.12L218.63 157.21L216.75 156.61L216.09 156.43L213.55 155.74L211.02 155.01L208.48 154.31L207.34 154.05L205.94 153.72L203.4 153.19L203.4 151.48L203.4 148.93L205.94 149.64L208.48 150.57L210.57 151.48L211.02 151.62L213.55 152.47L216.09 153L218.63 153.26L221.17 153.53L223.29 154.05L223.71 154.17L226.25 155.09L228.78 156.4L231.32 156.37L233.86 155.04L234.86 154.05L236.4 151.56L236.46 151.48L236.4 151.39L234.69 148.92L233.86 147.91L231.86 146.35L231.32 145.62L230.42 143.79L229.66 141.22L229.03 138.66L228.78 137.11L228.62 136.09L228.35 133.53L228.17 130.96L228.78 129.39L229.29 128.4L231.32 126L231.54 125.83L233.86 124.53L236.4 124.66L238.94 125.26L240.16 125.83L241.47 126.25L244.01 127.2L245.95 128.4L246.43 130.96L246.55 131.07L246.9 130.96L247.36 128.4L247.52 125.83L249.09 123.96L249.48 123.27L249.7 120.7L249.09 119.63L248.42 118.13L248.76 115.57L249.09 115.28L251.63 113.83L254.17 113.79L256.7 115.11L259.24 115.47L261.78 114.88L264.32 114.28L266.11 113L266.86 112.42L268.37 110.44L269.4 109.34L271.94 107.89L271.98 107.88L274.47 106.84L277.01 105.78L279.08 105.31L279.55 105.19L282.09 105.14L284.63 104.78L287.16 104.39L288.02 102.75L288.73 100.18L289.7 98.47L290.21 97.62L290.58 95.05L292.2 92.49L292.24 92.45L294.03 89.92L294.78 88.92L295.92 87.36L297.32 85.78L298.63 84.79ZM293.82 100.18L293.61 102.75L292.24 104.98L291.12 105.31L292.24 106.38L293.13 107.88L294.75 110.44L294.78 110.47L294.82 110.44L297.32 108.02L297.43 107.88L299.86 106.09L300.41 105.31L300.79 102.75L299.86 100.49L299.57 100.18L297.32 98.55L294.78 99.17ZM345.55 172L345.55 172L345.55 172L345.55 172ZM345.72 210.47L346.39 213.04L348.08 213.77L349.61 213.04L350.22 210.47L348.08 208.65Z" fill="#a2cde3" stroke="#a2cde3" stroke-width="0.6"/>
<path d="M310.01 83.18L312.55 83.44L314.41 84.79L315.09 85.86L316.61 87.36L317.62 88.23L319.53 89.92L320.16 91.78L320.46 92.49L322.03 95.05L322.7 95.78L325.24 97.61L325.24 97.62L327.78 98.04L330.32 98.47L332.86 98.9L335.39 99.33L337.93 99.73L340.47 100.18L340.47 100.18L343.01 102.75L343.01 102.75L345.55 105.31L345.55 105.31L348.08 106.59L350.62 107.88L350.62 107.88L353.16 109.16L355.7 110.44L355.7 110.44L355.7 113L355.7 115.57L355.7 118.14L355.7 120.7L355.7 123.27L355.7 125.83L355.7 128.4L355.7 130.96L355.7 133.53L355.7 136.09L355.7 138.66L355.7 141.22L355.7 143.79L355.7 146.35L355.7 148.92L355.7 151.48L355.7 151.48L353.16 154.05L353.16 154.05L350.62 156.61L350.62 156.61L348.08 159.18L348.08 159.18L345.55 161.74L343.01 159.18L343.01 159.18L340.47 156.61L340.47 156.61L337.93 154.05L337.93 154.05L335.39 151.48L335.39 151.48L335.39 151.48L332.86 153.53L332.01 154.05L330.32 154.9L327.78 155.88L325.24 156.61L325.24 156.61L323.55 159.18L322.7 160.46L321.86 161.74L322.7 164.3L322.7 164.31L325.24 166.87L325.24 166.87L327.78 167.6L330.32 168.58L332.01 169.44L332.86 169.95L335.39 172L332.86 174.56L332.86 174.57L330.32 177.13L330.32 177.13L327.78 179.69L327.78 179.7L325.24 182.26L325.24 182.26L322.7 182.26L320.16 182.26L317.62 182.26L315.09 182.26L315.09 179.69L315.09 177.13L315.09 174.56L315.09 172L315.09 172L315.09 172L315.09 174.56L315.09 177.13L315.09 179.69L315.09 182.26L312.55 183.54L310.01 184.82L310.01 184.82L307.47 186.11L304.93 187.39L302.39 186.66L299.86 185.68L298.16 184.82L297.32 184.31L294.78 182.26L294.78 182.26L292.24 182.26L289.7 182.26L287.16 182.26L284.63 182.26L282.09 179.7L282.09 179.69L279.55 177.13L279.55 177.13L277.01 174.56L277.01 174.56L274.47 172L274.47 172L274.47 172L271.94 172.93L269.4 173.47L266.86 173.81L264.32 174.05L261.78 172L261.78 172L259.24 170.42L257.29 169.44L256.7 169.17L254.17 168.15L251.63 167.55L249.09 166.87L249.09 166.87L246.55 166.07L244.01 165.11L241.47 164.36L241.44 164.31L240.19 161.74L238.94 159.61L238.17 159.18L238.08 156.61L238.94 155.66L240.11 154.05L241.47 151.48L239.95 148.92L238.94 147.46L238.12 146.35L236.4 144.58L235.65 143.79L233.86 142.27L233.13 141.22L231.76 138.66L231.32 137.26L230.96 136.09L230.53 133.53L230.28 130.96L231.32 129.33L232.11 128.4L233.86 126.92L236.4 126.85L238.94 127.13L241.47 127.92L242.35 128.4L244.01 129.84L244.72 130.96L246.55 132.75L249.09 132.16L250 130.96L250.47 128.4L250.81 125.83L251.63 124.25L252.3 123.27L251.78 120.7L251.63 120.65L249.82 118.14L250.15 115.57L251.63 114.66L254.17 115.01L255.09 115.57L256.5 118.14L256.7 118.52L259.24 118.43L260.12 118.14L261.78 117.62L264.32 116.85L266.49 115.57L266.86 115.32L268.77 113L269.4 112.15L270.14 110.44L271.94 109.02L274.47 108.06L275.68 107.88L277.01 107.57L279.55 107.17L282.09 106.74L284.63 106.07L287.16 105.93L289.7 106.53L291.06 107.88L292.24 110.16L292.43 110.44L294.78 112.99L297.32 110.59L297.43 110.44L299.32 107.88L299.86 107.48L301.38 105.31L301.75 102.75L301.24 100.18L299.86 98.62L298.38 97.62L297.32 96.79L296.16 97.62L294.78 98.12L292.81 100.18L292.79 102.75L292.24 103.64L289.7 103.98L289.04 102.75L289.54 100.18L289.7 99.9L291.05 97.62L291.4 95.05L292.24 93.73L294.01 92.49L294.78 90.66L294.96 89.92L296.79 87.36L297.32 86.76L299.86 84.83L302.39 85.28L304.93 86.03L307.47 84.85L307.51 84.79ZM308.38 84.79L307.47 86.33L304.93 86.96L302.39 86.2L299.86 85.71L297.76 87.36L297.32 88L296.04 89.92L295.83 92.49L297.32 94.65L297.63 95.05L299.86 96.86L301 97.62L302.39 99.31L302.95 100.18L302.93 102.75L302.39 105.01L302.35 105.31L301.08 107.88L299.86 110.12L299.63 110.44L298 113L297.32 113.69L294.78 115.51L292.24 113.84L291.51 113L290.84 110.44L289.7 108.49L289.03 107.88L287.16 107.11L284.63 107.4L283.26 107.88L282.09 108.46L279.55 109.26L277.01 109.44L274.47 109.23L271.94 110.16L271.58 110.44L270.62 113L270.11 115.57L269.4 116.36L266.94 118.14L266.86 118.18L264.32 119.41L261.78 120.36L260.92 120.7L259.24 121.97L257.54 123.27L256.7 123.91L254.54 125.83L254.17 126.19L252.95 128.4L251.63 130.8L251.58 130.96L250.18 133.53L249.09 134.55L246.55 134.88L245.19 133.53L244.01 132.39L242.94 130.96L241.48 129.61L238.94 128.84L236.4 128.83L233.86 129.21L232.32 130.96L232.5 133.53L232.92 136.09L233.86 138.26L234.15 138.66L236.4 140.65L237.58 141.22L238.94 142.09L241.47 143.39L242.04 143.79L243.99 146.35L244.01 146.39L245.08 148.92L245.71 151.48L245.46 154.05L245.14 156.61L244.7 159.18L244.06 161.74L246.55 162.92L249.09 163.94L250.11 164.31L251.63 164.82L254.17 165.59L256.7 166.34L258.23 166.87L259.24 167.26L261.78 168.43L263.54 169.44L264.32 169.95L266.86 169.44L266.86 169.44L269.4 168.92L271.94 168.41L274.47 167.9L277.01 168.38L279.55 169.07L280.57 169.44L282.09 170.13L284.63 172L287.16 172L289.7 172L292.24 172L294.78 172L297.32 172L299.86 172L302.39 172L304.93 172L307.47 169.44L307.47 169.44L310.01 166.87L310.01 166.87L312.55 164.31L312.55 164.3L315.09 161.74L315.09 161.74L316.78 159.18L317.62 157.89L318.47 156.61L320.16 154.05L320.16 154.05L321.86 151.48L322.7 150.69L325.24 148.92L325.24 148.92L327.78 148.27L330.32 147.63L332.86 146.99L335.39 146.35L335.39 146.35L337.93 146.35L340.47 146.35L343.01 146.35L345.55 146.35L348.08 145.07L350.62 143.79L350.62 143.78L353.16 142.5L355.7 141.22L353.67 138.66L353.16 137.8L352.32 136.09L351.35 133.53L350.62 130.96L350.62 130.96L349.9 128.4L348.93 125.83L348.08 124.12L347.58 123.27L345.55 120.7L345.55 120.7L344.28 118.14L343.01 115.57L343.01 115.57L341.74 113L340.47 110.44L340.47 110.44L337.93 107.88L337.93 107.88L335.39 105.31L335.39 105.31L332.86 102.75L332.85 102.75L330.32 100.18L330.32 100.18L327.78 99.75L325.24 99.32L322.7 98.13L321.99 97.62L320.16 95.52L319.9 95.05L318.87 92.49L318.27 89.92L317.62 89.35L315.32 87.36L315.09 87.13L313.61 84.79L312.55 84.02L310.01 83.74ZM292.22 95.05L291.89 97.62L292.24 98.88L293.38 97.62L292.61 95.05L292.24 95.01ZM251.5 115.57L251.1 118.14L251.63 118.87L253.69 118.13L252.01 115.57L251.63 115.49ZM277.01 113.73L277.51 115.57L277.01 115.79L276.62 115.57ZM205.94 153.72L207.34 154.05L208.48 154.31L211.02 155.01L213.55 155.74L216.09 156.43L216.75 156.61L218.63 157.21L221.17 158.12L223.71 159.18L223.71 159.18L226.25 159.21L228.78 159.33L231.32 159.52L232.2 161.74L231.32 164.16L231.17 164.31L229.11 166.87L228.78 167.4L227.9 169.44L227.41 172L226.83 174.56L226.35 177.13L226.25 177.58L225.68 179.69L224.97 182.26L224.38 184.82L223.71 187.39L223.71 187.39L221.17 189.1L220.32 189.95L218.63 192.52L218.63 192.52L216.09 193.16L213.55 193.8L211.02 194.63L209.49 195.09L208.48 195.37L205.94 196.03L203.4 196.62L203.4 195.09L203.4 194.57L205.94 193.87L208.48 193.09L210.17 192.52L209.86 189.95L209.49 187.39L209.04 184.82L208.48 182.26L211.02 179.98L211.53 179.69L213.55 178.87L216.09 178.62L218.63 178.28L221.17 177.77L223.36 177.13L223.71 177.01L224.34 174.56L225.11 172L224.85 169.44L224.14 166.87L223.71 166.15L222.17 164.31L221.17 163.31L219.19 161.74L218.63 161.48L216.09 160.51L213.55 159.65L212.39 159.18L211.02 158.66L208.48 157.58L205.94 157L203.54 156.61L203.4 156.58L203.4 154.05L203.4 153.19ZM355.7 182.26L355.7 182.26L355.7 184.82L355.7 187.39L355.7 189.95L355.7 192.52L355.7 195.09L355.7 195.94L353.16 196.69L351.22 197.65L350.62 197.99L348.08 199.75L347.31 200.22L345.55 202.78L345.55 202.79L343.01 203.43L340.47 203.9L337.93 204.32L335.39 204.5L332.86 203.23L332.21 202.78L330.91 200.22L330.41 197.65L330.93 195.09L332.86 192.98L334.55 192.52L335.39 192.04L337.93 191.79L340.47 191.21L341.37 189.95L343.01 188.34L344.72 187.39L345.55 186.93L348.08 186.27L350.62 185.61L352.31 184.82L353.16 184.31L355.7 182.26ZM344.03 192.52L345.07 195.09L345.55 195.53L348.08 195.59L348.76 195.09L350.21 192.52L348.08 190.35L345.55 190.6ZM333.25 195.09L332.86 195.48L331.94 197.65L332.86 200.15L332.91 200.21L335.39 202.4L337.93 201.07L338.59 200.22L339.46 197.65L338.08 195.09L337.93 194.98L335.39 194.06ZM348.08 208.65L350.22 210.47L349.61 213.04L348.08 213.77L346.39 213.04L345.72 210.47ZM347.83 210.47L348.08 211.52L348.31 210.47L348.08 210.28Z" fill="#7eb8d7" stroke="#7eb8d7" stroke-width="0.6"/>
<path d="M310.01 83.74L312.55 84.02L313.61 84.79L315.09 87.13L315.32 87.36L317.62 89.35L318.27 89.92L318.87 92.49L319.9 95.05L320.16 95.52L321.99 97.62L322.7 98.13L325.24 99.32L327.78 99.75L330.32 100.18L330.32 100.18L332.85 102.75L332.86 102.75L335.39 105.31L335.39 105.31L337.93 107.88L337.93 107.88L340.47 110.44L340.47 110.44L341.74 113L343.01 115.57L343.01 115.57L344.28 118.14L345.55 120.7L345.55 120.7L347.58 123.27L348.08 124.12L348.93 125.83L349.9 128.4L350.62 130.96L350.62 130.96L351.35 133.53L352.32 136.09L353.16 137.8L353.67 138.66L355.7 141.22L353.16 142.5L350.62 143.78L350.62 143.79L348.08 145.07L345.55 146.35L343.01 146.35L340.47 146.35L337.93 146.35L335.39 146.35L335.39 146.35L332.86 146.99L330.32 147.63L327.78 148.27L325.24 148.92L325.24 148.92L322.7 150.69L321.86 151.48L320.16 154.05L320.16 154.05L318.47 156.61L317.62 157.89L316.78 159.18L315.09 161.74L315.09 161.74L312.55 164.3L312.55 164.31L310.01 166.87L310.01 166.87L307.47 169.44L307.47 169.44L304.93 172L302.39 172L299.86 172L297.32 172L294.78 172L292.24 172L289.7 172L287.16 172L284.63 172L282.09 170.13L280.57 169.44L279.55 169.07L277.01 168.38L274.47 167.9L271.94 168.41L269.4 168.92L266.86 169.44L266.86 169.44L264.32 169.95L263.54 169.44L261.78 168.43L259.24 167.26L258.23 166.87L256.7 166.34L254.17 165.59L251.63 164.82L250.11 164.31L249.09 163.94L246.55 162.92L244.06 161.74L244.7 159.18L245.14 156.61L245.46 154.05L245.71 151.48L245.08 148.92L244.01 146.39L243.99 146.35L242.04 143.79L241.47 143.39L238.94 142.09L237.58 141.22L236.4 140.65L234.15 138.66L233.86 138.26L232.92 136.09L232.5 133.53L232.32 130.96L233.86 129.21L236.4 128.83L238.94 128.84L241.47 129.61L242.94 130.96L244.01 132.39L245.19 133.52L246.55 134.88L249.09 134.55L250.18 133.53L251.58 130.96L251.63 130.8L252.95 128.4L254.17 126.19L254.54 125.83L256.7 123.91L257.54 123.27L259.24 121.97L260.92 120.7L261.78 120.36L264.32 119.41L266.86 118.18L266.94 118.14L269.4 116.36L270.11 115.57L270.62 113L271.58 110.44L271.94 110.16L274.47 109.23L277.01 109.44L279.55 109.26L282.09 108.46L283.26 107.88L284.63 107.4L287.16 107.11L289.03 107.88L289.7 108.49L290.84 110.44L291.51 113L292.24 113.84L294.78 115.51L297.32 113.69L298 113L299.63 110.44L299.86 110.12L301.08 107.88L302.35 105.31L302.39 105.01L302.93 102.75L302.95 100.18L302.39 99.31L301 97.62L299.86 96.86L297.63 95.05L297.32 94.65L295.83 92.49L296.04 89.92L297.32 88L297.76 87.36L299.86 85.71L302.39 86.2L304.93 86.96L307.47 86.33L308.38 84.79ZM309.25 84.79L308.25 87.35L307.47 87.72L304.93 87.95L303.19 87.36L302.39 87.11L299.86 86.59L298.88 87.36L297.32 89.62L297.12 89.92L297.32 91.21L297.73 92.49L299.73 95.05L299.86 95.16L302.39 96.26L303.61 97.62L304.93 100.13L305.04 100.18L304.93 100.3L304.58 102.75L304.14 105.31L303.42 107.87L302.46 110.44L302.39 110.47L301.44 113L299.86 114.94L299.24 115.57L297.32 116.87L294.78 117.95L292.24 117.01L289.89 115.57L289.7 115.33L288.14 113L288.82 110.44L287.16 108.96L284.63 109.31L282.09 110.38L281.91 110.44L281.02 113L280.38 115.57L279.55 116.27L277.01 117.2L274.47 116.13L271.94 117.73L271.59 118.14L269.4 119.72L267.53 120.7L266.86 121.53L264.32 123.25L264.31 123.27L261.78 125.19L260.94 125.83L259.24 127.11L257.59 128.39L256.7 129.09L254.86 130.96L254.61 133.53L254.3 136.09L254.18 138.66L254.17 141.22L254.17 141.22L251.63 142.68L250.78 143.79L249.81 146.35L249.36 148.92L249.09 151.48L249.09 151.48L249.09 151.48L249.33 154.05L249.65 156.61L250.11 159.18L250.78 161.74L251.63 162.08L254.17 163.02L256.7 163.51L259.24 164.11L259.97 164.31L261.78 164.86L264.32 165.84L266.86 165.33L269.4 164.82L271.94 164.31L271.94 164.31L274.47 163.79L277.01 163.55L279.55 163.21L282.09 162.67L284.63 161.74L287.16 161.74L289.7 161.74L292.24 161.74L294.78 161.74L297.32 161.74L299.86 161.74L302.39 161.74L304.93 161.74L304.93 161.74L307.47 159.18L307.47 159.18L310.01 156.61L310.01 156.61L312.55 154.05L312.55 154.05L315.09 151.48L315.09 151.48L316.21 148.92L317.62 147.08L318.47 146.35L320.16 145.32L322.7 144.38L325.24 143.79L325.24 143.79L327.78 143.14L330.32 142.5L332.86 141.86L335.39 141.22L335.39 141.22L337.42 138.66L337.93 137.8L338.78 136.09L339.74 133.53L340.47 130.96L339.2 128.4L337.93 125.83L337.93 125.83L336.66 123.27L335.39 120.7L335.39 120.7L333.36 118.14L332.86 117.28L332.01 115.57L331.04 113L330.32 110.44L330.32 110.44L327.78 107.88L327.78 107.87L325.24 105.31L325.24 105.31L322.98 102.75L322.7 102.23L321.86 100.18L320.16 99.25L318.74 97.62L317.76 95.05L317.62 94.48L317.28 92.49L317 89.92L315.09 88.26L313.46 87.36L312.8 84.79L312.55 84.61L310.01 84.3ZM274.39 110.44L273.58 113L274.47 114.05L274.74 113L274.61 110.44L274.47 110.41ZM276.62 115.57L277.01 115.79L277.51 115.57L277.01 113.73ZM235.72 130.96L234.81 133.53L235.22 136.09L236.4 137.62L238.1 138.66L238.94 139.06L241.47 138.8L241.86 138.66L243.67 136.09L242.69 133.53L241.47 131.71L240.29 130.96L238.94 130.56L236.4 130.79ZM292.24 95.01L292.61 95.05L293.38 97.62L292.24 98.88L291.89 97.62L292.22 95.05ZM251.63 115.49L252.01 115.57L253.69 118.14L251.63 118.87L251.1 118.14L251.5 115.57ZM284.63 130.31L285.71 130.96L285.77 133.52L284.63 135.95L282.09 133.54L282.08 133.53L282.09 133.39L282.28 130.96ZM203.54 156.61L205.94 157L208.48 157.58L211.02 158.66L212.39 159.18L213.55 159.65L216.09 160.51L218.63 161.48L219.19 161.74L221.17 163.31L222.17 164.31L223.71 166.15L224.14 166.87L224.85 169.44L225.11 172L224.34 174.56L223.71 177.01L223.36 177.13L221.17 177.77L218.63 178.28L216.09 178.62L213.55 178.87L211.53 179.69L211.02 179.98L208.48 182.26L209.04 184.82L209.49 187.39L209.86 189.95L210.17 192.52L208.48 193.09L205.94 193.87L203.4 194.57L203.4 192.52L203.4 189.95L203.4 187.39L203.4 184.82L203.4 182.26L203.4 179.69L203.4 177.13L203.4 174.56L203.4 172L203.4 169.44L203.4 167.6L205.94 168.22L208.48 167.72L209.92 166.87L210.88 164.31L210.75 161.74L208.48 160.03L205.94 159.35L203.4 159.54L203.4 159.18L203.4 156.61L203.4 156.58ZM211.62 166.87L211.21 169.44L211.45 172L213.55 173.26L216.09 173.65L218.63 173.25L220.55 172L220.97 169.44L220 166.87L218.63 165.61L216.09 164.98L213.55 165.61ZM345.55 190.6L348.08 190.35L350.21 192.52L348.76 195.09L348.08 195.59L345.55 195.53L345.07 195.09L344.03 192.52ZM335.39 194.06L337.93 194.98L338.08 195.09L339.46 197.65L338.59 200.22L337.93 201.07L335.39 202.4L332.91 200.22L332.86 200.15L331.94 197.65L332.86 195.48L333.25 195.09ZM333.98 197.65L335.39 199.29L336.87 197.65L335.39 196.23ZM348.08 210.28L348.31 210.47L348.08 211.52L347.83 210.47Z" fill="#569fc9" stroke="#569fc9" stroke-width="0.6"/>
<path d="M310.01 84.3L312.55 84.61L312.8 84.79L313.46 87.36L315.09 88.26L317 89.92L317.28 92.49L317.62 94.48L317.76 95.05L318.74 97.62L320.16 99.25L321.86 100.18L322.7 102.23L322.98 102.75L325.24 105.31L325.24 105.31L327.78 107.87L327.78 107.88L330.32 110.44L330.32 110.44L331.04 113L332.01 115.57L332.86 117.28L333.36 118.14L335.39 120.7L335.39 120.7L336.66 123.27L337.93 125.83L337.93 125.83L339.2 128.4L340.47 130.96L339.74 133.53L338.78 136.09L337.93 137.8L337.42 138.66L335.39 141.22L335.39 141.22L332.86 141.86L330.32 142.5L327.78 143.14L325.24 143.79L325.24 143.79L322.7 144.38L320.16 145.32L318.47 146.35L317.62 147.08L316.21 148.92L315.09 151.48L315.09 151.48L312.55 154.05L312.55 154.05L310.01 156.61L310.01 156.61L307.47 159.18L307.47 159.18L304.93 161.74L304.93 161.74L302.39 161.74L299.86 161.74L297.32 161.74L294.78 161.74L292.24 161.74L289.7 161.74L287.16 161.74L284.63 161.74L282.09 162.67L279.55 163.21L277.01 163.55L274.47 163.79L271.94 164.31L271.94 164.31L269.4 164.82L266.86 165.33L264.32 165.84L261.78 164.86L259.97 164.31L259.24 164.11L256.7 163.51L254.17 163.02L251.63 162.08L250.78 161.74L250.11 159.18L249.65 156.61L249.33 154.05L249.09 151.48L249.09 151.48L249.09 151.48L249.36 148.92L249.81 146.35L250.78 143.79L251.63 142.68L254.17 141.22L254.17 141.22L254.18 138.66L254.3 136.09L254.61 133.53L254.86 130.96L256.7 129.09L257.59 128.4L259.24 127.11L260.94 125.83L261.78 125.19L264.31 123.27L264.32 123.25L266.86 121.53L267.53 120.7L269.4 119.72L271.59 118.14L271.94 117.73L274.47 116.13L277.01 117.2L279.55 116.27L280.38 115.57L281.02 113L281.91 110.44L282.09 110.38L284.63 109.31L287.16 108.96L288.82 110.44L288.14 113L289.7 115.33L289.89 115.57L292.24 117.01L294.78 117.95L297.32 116.87L299.24 115.57L299.86 114.94L301.44 113L302.39 110.47L302.46 110.44L303.42 107.88L304.14 105.31L304.58 102.75L304.93 100.3L305.04 100.18L304.93 100.13L303.61 97.62L302.39 96.26L299.86 95.16L299.73 95.05L297.73 92.49L297.32 91.21L297.12 89.92L297.32 89.62L298.88 87.35L299.86 86.59L302.39 87.11L303.19 87.35L304.93 87.95L307.47 87.72L308.25 87.36L309.25 84.79ZM300.64 89.92L302.39 91.66L302.78 92.49L304.93 95.05L304.93 95.05L307.47 95.44L310.01 96.08L312.55 97.25L313.06 97.62L315.09 100.18L315.09 100.18L315.09 100.18L315.49 97.62L315.62 95.05L315.68 92.49L315.72 89.92L315.09 89.37L312.55 88.57L310.01 88.11L307.47 88.92L304.93 89L302.39 89.45ZM284.18 115.57L282.09 116.87L279.77 118.13L279.55 118.25L277.01 119.34L274.47 119.86L273.29 120.7L273.28 123.27L274.16 125.83L274.47 126.13L277.01 127.27L279.55 127.5L282.09 126.93L284.63 126.68L287.16 128.29L287.45 128.4L289.7 129.43L290.89 130.96L291.57 133.53L292.24 136.06L292.25 136.09L293.12 138.66L294.69 141.22L294.78 141.31L294.88 141.22L297.32 139.13L297.86 138.66L299.86 137.19L301.13 136.09L302.39 135L303.84 133.53L304.93 132.15L305.93 130.96L307.36 128.4L307.47 128.13L308.47 125.83L309.32 123.27L310.01 120.73L310.02 120.7L310.01 120.67L309.29 118.14L308.23 115.57L307.47 114.79L304.93 114.38L303.93 115.57L302.39 117.85L302.07 118.14L299.86 119.4L297.32 120.06L294.78 120.46L292.24 120.07L289.7 119.35L287.38 118.14L287.16 117.99L284.88 115.57L284.63 115.16ZM264.32 128.4L261.78 130.32L260.94 130.96L261.78 132.67L262.29 133.53L264.32 136.09L264.32 136.09L264.32 136.09L266.86 134.38L267.71 133.53L269.4 131.05L269.44 130.96L269.4 130.9L266.86 129.08L264.33 128.4L264.32 128.39ZM282.28 130.96L282.09 133.39L282.08 133.53L282.09 133.54L284.63 135.95L285.77 133.53L285.71 130.96L284.63 130.31ZM264.32 146.35L261.78 146.92L259.24 147.38L256.7 147.75L254.17 148.06L253.63 148.92L252.47 151.48L253.2 154.05L254.17 156.61L254.17 156.61L256.7 157.34L259.24 158.32L260.94 159.18L261.78 159.69L264.32 161.74L266.86 159.69L267.7 159.18L269.4 158.32L271.94 157.34L274.47 156.61L274.47 156.61L277.01 154.41L277.37 154.05L279.55 151.48L279.55 151.48L279.55 151.48L277.86 148.92L277.01 148.06L274.47 146.35L274.47 146.35L271.94 146.35L269.4 146.35L266.86 146.35L264.32 146.35ZM304.93 151.48L304.93 151.48L304.93 151.48L304.93 151.48ZM274.47 110.41L274.61 110.44L274.74 113L274.47 114.05L273.58 113L274.39 110.44ZM236.4 130.79L238.94 130.56L240.29 130.96L241.47 131.71L242.69 133.53L243.67 136.09L241.86 138.66L241.47 138.8L238.94 139.06L238.1 138.66L236.4 137.62L235.22 136.09L234.81 133.53L235.72 130.96ZM205.94 159.35L208.48 160.03L210.75 161.74L210.88 164.31L209.92 166.87L208.48 167.72L205.94 168.22L203.4 167.6L203.4 166.87L203.4 164.31L203.4 161.74L203.4 159.54ZM204.54 161.74L205.04 164.31L205.94 164.87L207.19 164.31L207.42 161.74L205.94 161.25ZM213.55 165.61L216.09 164.98L218.63 165.61L220 166.87L220.97 169.44L220.55 172L218.63 173.25L216.09 173.65L213.55 173.26L211.45 172L211.21 169.44L211.62 166.87ZM335.39 196.23L336.87 197.65L335.39 199.29L333.98 197.65Z" fill="#327cb7" stroke="#327cb7" stroke-width="0.6"/>
<path d="M302.39 89.45L304.93 89L307.47 88.92L310.01 88.11L312.55 88.57L315.09 89.37L315.72 89.92L315.68 92.49L315.62 95.05L315.49 97.62L315.09 100.18L315.09 100.18L315.09 100.18L313.06 97.62L312.55 97.25L310.01 96.08L307.47 95.44L304.93 95.05L304.93 95.05L302.78 92.49L302.39 91.66L300.64 89.92ZM284.63 115.16L284.88 115.57L287.16 117.99L287.38 118.13L289.7 119.35L292.24 120.07L294.78 120.46L297.32 120.06L299.86 119.4L302.07 118.14L302.39 117.85L303.93 115.57L304.93 114.38L307.47 114.79L308.23 115.57L309.29 118.14L310.01 120.67L310.02 120.7L310.01 120.73L309.32 123.27L308.47 125.83L307.47 128.13L307.36 128.4L305.93 130.96L304.93 132.15L303.84 133.53L302.39 135L301.13 136.09L299.86 137.19L297.86 138.66L297.32 139.13L294.88 141.22L294.78 141.31L294.69 141.22L293.12 138.66L292.25 136.09L292.24 136.06L291.57 133.53L290.89 130.96L289.7 129.43L287.45 128.4L287.16 128.29L284.63 126.68L282.09 126.93L279.55 127.5L277.01 127.27L274.47 126.13L274.16 125.83L273.28 123.27L273.29 120.7L274.47 119.86L277.01 119.34L279.55 118.25L279.77 118.13L282.09 116.87L284.18 115.57ZM264.32 128.39L264.33 128.4L266.86 129.08L269.4 130.9L269.44 130.96L269.4 131.05L267.71 133.53L266.86 134.38L264.32 136.09L264.32 136.09L264.32 136.09L262.29 133.53L261.78 132.67L260.94 130.96L261.78 130.32L264.32 128.4ZM264.32 146.35L266.86 146.35L269.4 146.35L271.93 146.35L274.47 146.35L274.47 146.35L277.01 148.06L277.86 148.92L279.55 151.48L279.55 151.48L279.55 151.48L277.37 154.05L277.01 154.41L274.47 156.61L274.47 156.61L271.93 157.34L269.4 158.32L267.7 159.18L266.86 159.69L264.32 161.74L261.78 159.69L260.94 159.18L259.24 158.32L256.7 157.34L254.17 156.61L254.17 156.61L253.2 154.05L252.47 151.48L253.63 148.92L254.17 148.06L256.71 147.75L259.24 147.38L261.78 146.92L264.32 146.35ZM304.93 151.48L304.93 151.48L304.93 151.48L304.93 151.48ZM205.94 161.25L207.42 161.74L207.19 164.31L205.94 164.87L205.04 164.31L204.54 161.74Z" fill="#124984" stroke="#124984" stroke-width="0.6"/>
<g fill="none" stroke="#000" stroke-width="0.9" stroke-linejoin="round">
<polyline points="218.8,68 218.8,81.9 214.7,82.8 208.9,82.5 204.2,81.3 202,81"/>
<polyline points="202,112.6 204.8,116.9 207.1,121 210.3,122.8 214.9,124.6 219.4,126.9 223.1,127.8 226.7,126.5 229.9,125.5 232.2,126.9 233.6,130.6 237.7,131.9 244.1,132.9 251.4,134.2"/>
<polyline points="202,130 205.7,130.6 207.1,131.5 207.1,135.1 208,138.8 210.3,140.2 214,139.2 219.4,139.2 223.1,136.1 226.7,132.4 230.4,129.7 229.5,132.4 230.4,136.1 233.1,138.8 237.7,141.1 242.3,143.4 245.5,147 244.1,149.7 241.4,152.5 240.4,155.2 237.7,156.1 235.9,158.9 233.1,161.6 231.3,164.4 227.6,166.5 224.1,169.4 219.4,171.8 214.7,173.5 211.2,175.3 208.9,177.7 202,179.6"/>
<polyline points="283.47,140.98 285.18,143.17 287.84,144.5 291.27,144.02 293.08,143.64 290.42,144.88 286.99,146.21 286.51,147.55 289.56,150.98 292.13,153.64 294.8,154.5 298.22,153.64 300.41,151.93 300.89,149.26 301.27,147.55 302.6,147.93 303.94,149.74 303.08,152.79 302.6,156.21 303.46,160.59 304.32,164.88 305.17,170.12 306.13,174.5 307.84,177.07 309.55,180.59 311.27,184.02 313.08,189.26 313.65,190.5 315.93,194.97 318.12,199.45 320.41,204.97 322.03,208.87 323.74,210.59 325.93,210.02 328.21,207.83 330.4,204.97 332.69,202.78 334.31,200.49 334.88,196.11 335.45,190.5 336.02,183.83 336.02,179.35 337.64,176.02 341.64,173.74 346.02,170.4 353.35,165.36"/>
<polyline points="206.5,192.9 206.5,199.9 204.8,204.6 202,207.5"/>
<polygon points="334.88,203.35 337.16,203.92 339.93,207.26 342.12,211.73 343.26,216.21 343.07,220.11 334.88,220.11 334.31,212.78 333.74,206.11"/>
</g>
<ellipse cx="218.8" cy="191.1" rx="2" ry="1" fill="none" stroke="#000" stroke-width="0.8"/>
<circle cx="303.08" cy="196.59" r="0.6" fill="#000"/>
<circle cx="304.22" cy="210.02" r="0.6" fill="#000"/>
<polygon points="250.24,113.65 255.85,115.84 262.52,115.36 269.28,114.79 273.66,112.5 273.66,109.17 275.94,106.98 280.04,105.84 282.42,105.84 285.75,105.27 288.04,101.36 290.23,98.6 290.23,95.27 293.56,94.12 296.41,91.36 295.84,87.93 296.41,84.6 299.18,83.55 304.79,82.41 310.32,81.27 312.6,80.7 315.93,81.84 317.55,84.6 318.69,86.89 321.45,87.46 325.93,87.93 324.88,89.65 321.45,91.84 317.08,92.98 312.6,92.41 308.7,91.84 306.98,93.55 308.13,96.89 309.74,100.22 312.6,101.93 314.22,102.7 311.46,104.69 310.32,106.98 308.13,110.31 305.84,113.65 303.08,116.98 300.32,120.31 296.99,121.46 293.56,122.03 291.37,124.22 288.61,125.93 290.23,128.69 291.94,130.41 293.08,133.74 295.27,136.02 295.84,138.22 290.23,138.79 285.75,139.36 282.42,140.41 280.04,138.22 275.94,133.74 273.66,132.6 264.8,133.74 257,134.31 252.52,134.31 254.71,130.41 257,128.12 260.9,127.07 260.33,124.79 258.04,122.6 255.85,120.31 253.57,116.98" fill="none" stroke="#008000" stroke-width="2.6" stroke-linejoin="round"/>
</g>
<rect x="203.4" y="69.4" width="152.3" height="153.9" fill="none" stroke="#222" stroke-width="0.9"/>
<polygon points="40.6,237.2 26.4,247.2 40.6,257.2" fill="#67001f"/>
<polygon points="318.6,237.2 332.5,247.2 318.6,257.2" fill="#053061"/>
<rect x="40.3" y="237.2" width="18.92" height="20" fill="#8a0b25"/>
<rect x="58.87" y="237.2" width="18.92" height="20" fill="#c43b3c"/>
<rect x="77.45" y="237.2" width="18.92" height="20" fill="#dd7059"/>
<rect x="96.02" y="237.2" width="18.92" height="20" fill="#ec9374"/>
<rect x="114.59" y="237.2" width="18.92" height="20" fill="#f6b394"/>
<rect x="133.17" y="237.2" width="18.92" height="20" fill="#fbccb4"/>
<rect x="151.74" y="237.2" width="18.92" height="20" fill="#fce2d2"/>
<rect x="170.31" y="237.2" width="18.92" height="20" fill="#f7f6f6"/>
<rect x="188.89" y="237.2" width="18.92" height="20" fill="#dae9f2"/>
<rect x="207.46" y="237.2" width="18.92" height="20" fill="#c2ddec"/>
<rect x="226.03" y="237.2" width="18.92" height="20" fill="#a2cde3"/>
<rect x="244.61" y="237.2" width="18.92" height="20" fill="#7eb8d7"/>
<rect x="263.18" y="237.2" width="18.92" height="20" fill="#569fc9"/>
<rect x="281.75" y="237.2" width="18.92" height="20" fill="#327cb7"/>
<rect x="300.33" y="237.2" width="18.92" height="20" fill="#124984"/>
<polygon points="40.3,237.2 318.9,237.2 332.5,247.2 318.9,257.2 40.3,257.2 26.4,247.2" fill="none" stroke="#222" stroke-width="0.8" stroke-linejoin="miter"/>
<line x1="40.3" y1="257.2" x2="40.3" y2="260.6" stroke="#222" stroke-width="0.8"/>
<text x="30.83" y="271.4" font-size="9.3" textLength="19.83" lengthAdjust="spacingAndGlyphs">−4.0</text>
<line x1="77.45" y1="257.2" x2="77.45" y2="260.6" stroke="#222" stroke-width="0.8"/>
<text x="67.93" y="271.4" font-size="9.3" textLength="19.83" lengthAdjust="spacingAndGlyphs">−2.4</text>
<line x1="114.59" y1="257.2" x2="114.59" y2="260.6" stroke="#222" stroke-width="0.8"/>
<text x="105.15" y="271.4" font-size="9.3" textLength="19.83" lengthAdjust="spacingAndGlyphs">−1.6</text>
<line x1="151.74" y1="257.2" x2="151.74" y2="260.6" stroke="#222" stroke-width="0.8"/>
<text x="142.3" y="271.4" font-size="9.3" textLength="19.83" lengthAdjust="spacingAndGlyphs">−0.8</text>
<line x1="188.89" y1="257.2" x2="188.89" y2="260.6" stroke="#222" stroke-width="0.8"/>
<text x="182.36" y="271.4" font-size="9.3" textLength="13.96" lengthAdjust="spacingAndGlyphs">0.4</text>
<line x1="226.03" y1="257.2" x2="226.03" y2="260.6" stroke="#222" stroke-width="0.8"/>
<text x="219.42" y="271.4" font-size="9.3" textLength="13.96" lengthAdjust="spacingAndGlyphs">1.2</text>
<line x1="263.18" y1="257.2" x2="263.18" y2="260.6" stroke="#222" stroke-width="0.8"/>
<text x="256.64" y="271.4" font-size="9.3" textLength="13.96" lengthAdjust="spacingAndGlyphs">2.0</text>
<line x1="300.33" y1="257.2" x2="300.33" y2="260.6" stroke="#222" stroke-width="0.8"/>
<text x="293.91" y="271.4" font-size="9.3" textLength="13.96" lengthAdjust="spacingAndGlyphs">3.2</text>
<text x="-0.53" y="13.1" font-size="18" textLength="10.01" lengthAdjust="spacingAndGlyphs" font-weight="bold">a</text>
<text x="58.22" y="20.75" font-size="15.4" textLength="242.89" lengthAdjust="spacingAndGlyphs">Pakistan summer 2022 rainfall</text>
<text x="94.3" y="39.2" font-size="15.4" textLength="174.93" lengthAdjust="spacingAndGlyphs">standardised anomaly</text>
<text x="59.34" y="64.6" font-size="15.5" textLength="42.65" lengthAdjust="spacingAndGlyphs">GPCP</text>
<text x="219.47" y="64.3" font-size="15.5" textLength="120.37" lengthAdjust="spacingAndGlyphs">DP3 ens. mean</text>
<text x="122.42" y="282.8" font-size="9.6" textLength="114.31" lengthAdjust="spacingAndGlyphs">standardised anomaly (<tspan font-style="italic">σ</tspan>)</text>
<line x1="442.4" y1="203.75" x2="674.3" y2="203.75" stroke="#000" stroke-width="1.5"/>
<g clip-path="url(#cb)" fill="none" stroke-linejoin="round">
<polyline points="444.98,217.7 450.02,223.22 455.06,208.4 460.1,236.01 465.14,194.74 470.18,209.56 475.22,221.77 480.26,216.54 485.3,254.02 490.34,185.73 495.38,193.58 500.42,219.73 505.46,248.5 510.5,190.09 515.54,231.36 520.58,157.25 525.62,184.86 530.66,211.31 535.7,188.93 540.74,229.03 545.78,239.49 550.82,230.19 555.86,204.62 560.9,246.18 565.94,174.98 570.98,231.36 576.02,233.39 581.06,181.08 586.1,176.72 591.14,186.6 596.18,221.19 601.22,135.46 606.26,195.03 611.3,238.62 616.34,179.92 621.38,236.3 626.42,182.83 631.46,195.61 636.5,192.71 641.54,225.54 646.58,197.94 651.62,167.13 656.66,225.54 661.7,61.36" stroke="#000" stroke-width="2.7"/>
<polyline points="444.98,244.14 450.02,214.5 455.06,236.88 460.1,221.19 465.14,208.98 470.18,247.05 475.22,165.39 480.26,205.78 485.3,191.25 490.34,201.13 495.38,181.96 500.42,211.89 505.46,212.47 510.5,242.4 515.54,180.21 520.58,211.31 525.62,186.6 530.66,194.74 535.7,227.29 540.74,169.46 545.78,178.18 550.82,221.19 555.86,260.71 560.9,246.18 565.94,201.72 570.98,236.3 576.02,197.94 581.06,219.15 586.1,178.76 591.14,184.86 596.18,211.31 601.22,156.09 606.26,155.51 611.3,230.19 616.34,216.25 621.38,202.3 626.42,219.73 631.46,172.66 636.5,221.77 641.54,222.64 646.58,195.03 651.62,142.43 656.66,208.11 661.7,102.62" stroke="#ff0000" stroke-width="1.7"/>
</g>
<path d="M658.3 35.3H665.5M661.9 31.7V38.9" stroke="#0000ff" stroke-width="1.6" fill="none"/>
<path d="M653 85.9H660.2M656.6 82.3V89.5" stroke="#0000ff" stroke-width="1.6" fill="none"/>
<path d="M654.1 61.4H669.7M661.9 53.6V69.2" stroke="#000" stroke-width="3.4" fill="none"/>
<path d="M654.1 102.6H669.7M661.9 94.8V110.4" stroke="#ff0000" stroke-width="3.4" fill="none"/>
<line x1="439" y1="261.9" x2="674.3" y2="261.9" stroke="#a0a0a0" stroke-width="1.6"/>
<path d="M442.4 261.9V31.3H674.3V261.9" fill="none" stroke="#444" stroke-width="0.9"/>
<line x1="439" y1="232.81" x2="442.4" y2="232.81" stroke="#444" stroke-width="0.9"/>
<text x="424.5" y="236.01" font-size="9" textLength="11.29" lengthAdjust="spacingAndGlyphs">−1</text>
<line x1="439" y1="203.75" x2="442.4" y2="203.75" stroke="#444" stroke-width="0.9"/>
<text x="430.18" y="206.95" font-size="9" textLength="5.51" lengthAdjust="spacingAndGlyphs">0</text>
<line x1="439" y1="174.69" x2="442.4" y2="174.69" stroke="#444" stroke-width="0.9"/>
<text x="430.28" y="177.89" font-size="9" textLength="5.51" lengthAdjust="spacingAndGlyphs">1</text>
<line x1="439" y1="145.63" x2="442.4" y2="145.63" stroke="#444" stroke-width="0.9"/>
<text x="430.29" y="148.83" font-size="9" textLength="5.51" lengthAdjust="spacingAndGlyphs">2</text>
<line x1="439" y1="116.57" x2="442.4" y2="116.57" stroke="#444" stroke-width="0.9"/>
<text x="430.23" y="119.77" font-size="9" textLength="5.51" lengthAdjust="spacingAndGlyphs">3</text>
<line x1="439" y1="87.51" x2="442.4" y2="87.51" stroke="#444" stroke-width="0.9"/>
<text x="430.08" y="90.71" font-size="9" textLength="5.51" lengthAdjust="spacingAndGlyphs">4</text>
<line x1="439" y1="58.45" x2="442.4" y2="58.45" stroke="#444" stroke-width="0.9"/>
<text x="430.21" y="61.65" font-size="9" textLength="5.51" lengthAdjust="spacingAndGlyphs">5</text>
<text x="424.51" y="265.1" font-size="9" textLength="11.29" lengthAdjust="spacingAndGlyphs">−2</text>
<line x1="447.5" y1="262.6" x2="447.5" y2="265.5" stroke="#444" stroke-width="0.9"/>
<text x="436.6" y="274.8" font-size="8.6" textLength="21.04" lengthAdjust="spacingAndGlyphs">1980</text>
<line x1="472.7" y1="262.6" x2="472.7" y2="265.5" stroke="#444" stroke-width="0.9"/>
<text x="461.82" y="274.8" font-size="8.6" textLength="21.04" lengthAdjust="spacingAndGlyphs">1985</text>
<line x1="497.9" y1="262.6" x2="497.9" y2="265.5" stroke="#444" stroke-width="0.9"/>
<text x="487" y="274.8" font-size="8.6" textLength="21.04" lengthAdjust="spacingAndGlyphs">1990</text>
<line x1="523.1" y1="262.6" x2="523.1" y2="265.5" stroke="#444" stroke-width="0.9"/>
<text x="512.22" y="274.8" font-size="8.6" textLength="21.04" lengthAdjust="spacingAndGlyphs">1995</text>
<line x1="548.3" y1="262.6" x2="548.3" y2="265.5" stroke="#444" stroke-width="0.9"/>
<text x="537.52" y="274.8" font-size="8.6" textLength="21.04" lengthAdjust="spacingAndGlyphs">2000</text>
<line x1="573.5" y1="262.6" x2="573.5" y2="265.5" stroke="#444" stroke-width="0.9"/>
<text x="562.74" y="274.8" font-size="8.6" textLength="21.04" lengthAdjust="spacingAndGlyphs">2005</text>
<line x1="598.7" y1="262.6" x2="598.7" y2="265.5" stroke="#444" stroke-width="0.9"/>
<text x="587.92" y="274.8" font-size="8.6" textLength="21.04" lengthAdjust="spacingAndGlyphs">2010</text>
<line x1="623.9" y1="262.6" x2="623.9" y2="265.5" stroke="#444" stroke-width="0.9"/>
<text x="613.14" y="274.8" font-size="8.6" textLength="21.04" lengthAdjust="spacingAndGlyphs">2015</text>
<line x1="649.1" y1="262.6" x2="649.1" y2="265.5" stroke="#444" stroke-width="0.9"/>
<text x="638.32" y="274.8" font-size="8.6" textLength="21.04" lengthAdjust="spacingAndGlyphs">2020</text>
<line x1="674.3" y1="262.6" x2="674.3" y2="265.5" stroke="#444" stroke-width="0.9"/>
<text x="663.54" y="274.8" font-size="8.6" textLength="21.04" lengthAdjust="spacingAndGlyphs">2025</text>
<text x="385.62" y="14" font-size="18" textLength="13.7" lengthAdjust="spacingAndGlyphs" font-weight="bold">b</text>
<text x="458.81" y="25.7" font-size="15.2" textLength="198.7" lengthAdjust="spacingAndGlyphs">Pakistan summer rainfall</text>
<text transform="translate(401.3,207.4) rotate(-90)" x="-1.32" y="0" font-size="15.2" textLength="119.15" lengthAdjust="spacingAndGlyphs">Rainfall anomaly</text>
<text transform="translate(417.2,196.8) rotate(-90)" x="-1" y="0" font-size="15.2" textLength="102.79" lengthAdjust="spacingAndGlyphs">(standardised)</text>
<text x="543.29" y="290.6" font-size="14.8" textLength="29.85" lengthAdjust="spacingAndGlyphs">Year</text>
<line x1="449.6" y1="44.1" x2="471.5" y2="44.1" stroke="#000" stroke-width="2.7"/>
<line x1="449.6" y1="64.7" x2="471.5" y2="64.7" stroke="#ff0000" stroke-width="1.7"/>
<text x="478.03" y="47.5" font-size="10.2" textLength="26.36" lengthAdjust="spacingAndGlyphs">GPCP</text>
<text x="477.58" y="61.9" font-size="10.2" textLength="173.73" lengthAdjust="spacingAndGlyphs">DP3 ens. mean, r= 0.50 (p&lt;0.001),</text>
<text x="477.97" y="72" font-size="10.2" textLength="96.87" lengthAdjust="spacingAndGlyphs">[r= 0.27 (p=0.076)]</text>
<g clip-path="url(#cc)">
<line x1="163.5" y1="484.17" x2="515.1" y2="484.17" stroke="#0000ff" stroke-width="1.2"/>
<line x1="163.5" y1="532.7" x2="515.1" y2="532.7" stroke="#008000" stroke-width="1.2"/>
<line x1="163.5" y1="569.1" x2="515.1" y2="569.1" stroke="#ff0000" stroke-width="1.2"/>
<line x1="163.5" y1="605.5" x2="515.1" y2="605.5" stroke="#000" stroke-width="1.5"/>
<g fill="none" stroke-linejoin="round">
<polyline points="179.65,523.6 186.6,487.2 193.55,541.8 200.5,505.4 207.45,487.2 214.4,523.6 221.35,432.6 228.3,478.1 235.25,450.8 242.2,478.1 249.15,441.7 256.1,514.5 263.05,514.5 270,532.7 276.95,441.7 283.9,450.8 290.85,469 297.8,459.9 304.75,532.7 311.7,441.7 318.65,423.5 325.6,532.7 332.55,560 339.5,532.7 346.45,514.5 353.4,550.9 360.35,441.7 367.3,505.4 374.25,450.8 381.2,469 388.15,487.2 395.1,441.7 402.05,405.3 409,505.4 415.95,514.5 422.9,469 429.85,532.7 436.8,414.4 443.75,523.6 450.7,541.8 457.65,496.3 464.6,368.9 471.55,459.9 478.5,359.8" stroke="#0000ff" stroke-width="2.8"/>
<polyline points="179.65,569.1 186.6,532.7 193.55,587.3 200.5,550.9 207.45,532.7 214.4,587.3 221.35,496.3 228.3,523.6 235.25,514.5 242.2,532.7 249.15,487.2 256.1,532.7 263.05,541.8 270,560 276.95,478.1 283.9,541.8 290.85,514.5 297.8,541.8 304.75,550.9 311.7,514.5 318.65,478.1 325.6,578.2 332.55,587.3 339.5,569.1 346.45,550.9 353.4,578.2 360.35,541.8 367.3,560 374.25,478.1 381.2,505.4 388.15,550.9 395.1,469 402.05,487.2 409,550.9 415.95,550.9 422.9,532.7 429.85,560 436.8,478.1 443.75,569.1 450.7,569.1 457.65,541.8 464.6,459.9 471.55,541.8 478.5,414.4" stroke="#008000" stroke-width="2.8"/>
<polyline points="179.65,578.2 186.6,569.1 193.55,596.4 200.5,596.4 207.45,578.2 214.4,605.5 221.35,532.7 228.3,587.3 235.25,596.4 242.2,569.1 249.15,541.8 256.1,560 263.05,569.1 270,587.3 276.95,560 283.9,569.1 290.85,550.9 297.8,587.3 304.75,578.2 311.7,541.8 318.65,541.8 325.6,587.3 332.55,605.5 339.5,578.2 346.45,569.1 353.4,587.3 360.35,596.4 367.3,578.2 374.25,532.7 381.2,569.1 388.15,587.3 395.1,523.6 402.05,532.7 409,605.5 415.95,578.2 422.9,560 429.85,587.3 436.8,550.9 443.75,587.3 450.7,578.2 457.65,578.2 464.6,523.6 471.55,578.2 478.5,478.1" stroke="#ff0000" stroke-width="3.8"/>
</g>
<polygon points="499.35,372.1 500.74,376.38 505.25,376.38 501.6,379.03 502.99,383.32 499.35,380.67 495.71,383.32 497.1,379.03 493.45,376.38 497.96,376.38" fill="#0000ff" stroke="#0000ff" stroke-width="2.4" stroke-linejoin="round"/>
<polygon points="499.35,408.5 500.74,412.78 505.25,412.78 501.6,415.43 502.99,419.72 499.35,417.07 495.71,419.72 497.1,415.43 493.45,412.78 497.96,412.78" fill="#008000" stroke="#008000" stroke-width="2.4" stroke-linejoin="round"/>
<polygon points="499.35,472.2 500.74,476.48 505.25,476.48 501.6,479.13 502.99,483.42 499.35,480.77 495.71,483.42 497.1,479.13 493.45,476.48 497.96,476.48" fill="#ff0000" stroke="#ff0000" stroke-width="2.4" stroke-linejoin="round"/>
</g>
<rect x="163.5" y="347.4" width="351.6" height="269.9" fill="none" stroke="#444" stroke-width="0.9"/>
<line x1="160.1" y1="605.5" x2="163.5" y2="605.5" stroke="#444" stroke-width="0.9"/>
<text x="151.81" y="608.8" font-size="9.3" textLength="5.59" lengthAdjust="spacingAndGlyphs">0</text>
<line x1="160.1" y1="569.1" x2="163.5" y2="569.1" stroke="#444" stroke-width="0.9"/>
<text x="146.22" y="572.4" font-size="9.3" textLength="11.17" lengthAdjust="spacingAndGlyphs">10</text>
<line x1="160.1" y1="532.7" x2="163.5" y2="532.7" stroke="#444" stroke-width="0.9"/>
<text x="146.22" y="536" font-size="9.3" textLength="11.17" lengthAdjust="spacingAndGlyphs">20</text>
<line x1="160.1" y1="496.3" x2="163.5" y2="496.3" stroke="#444" stroke-width="0.9"/>
<text x="146.22" y="499.6" font-size="9.3" textLength="11.17" lengthAdjust="spacingAndGlyphs">30</text>
<line x1="160.1" y1="459.9" x2="163.5" y2="459.9" stroke="#444" stroke-width="0.9"/>
<text x="146.22" y="463.2" font-size="9.3" textLength="11.17" lengthAdjust="spacingAndGlyphs">40</text>
<line x1="160.1" y1="423.5" x2="163.5" y2="423.5" stroke="#444" stroke-width="0.9"/>
<text x="146.22" y="426.8" font-size="9.3" textLength="11.17" lengthAdjust="spacingAndGlyphs">50</text>
<line x1="160.1" y1="387.1" x2="163.5" y2="387.1" stroke="#444" stroke-width="0.9"/>
<text x="146.22" y="390.4" font-size="9.3" textLength="11.17" lengthAdjust="spacingAndGlyphs">60</text>
<line x1="160.1" y1="350.7" x2="163.5" y2="350.7" stroke="#444" stroke-width="0.9"/>
<text x="146.22" y="354" font-size="9.3" textLength="11.17" lengthAdjust="spacingAndGlyphs">70</text>
<line x1="186.6" y1="617.3" x2="186.6" y2="620.7" stroke="#444" stroke-width="0.9"/>
<text x="175.14" y="630.8" font-size="9.3" textLength="22.34" lengthAdjust="spacingAndGlyphs">1980</text>
<line x1="256.1" y1="617.3" x2="256.1" y2="620.7" stroke="#444" stroke-width="0.9"/>
<text x="244.64" y="630.8" font-size="9.3" textLength="22.34" lengthAdjust="spacingAndGlyphs">1990</text>
<line x1="325.6" y1="617.3" x2="325.6" y2="620.7" stroke="#444" stroke-width="0.9"/>
<text x="314.27" y="630.8" font-size="9.3" textLength="22.34" lengthAdjust="spacingAndGlyphs">2000</text>
<line x1="395.1" y1="617.3" x2="395.1" y2="620.7" stroke="#444" stroke-width="0.9"/>
<text x="383.77" y="630.8" font-size="9.3" textLength="22.34" lengthAdjust="spacingAndGlyphs">2010</text>
<line x1="464.6" y1="617.3" x2="464.6" y2="620.7" stroke="#444" stroke-width="0.9"/>
<text x="453.27" y="630.8" font-size="9.3" textLength="22.34" lengthAdjust="spacingAndGlyphs">2020</text>
<line x1="499.35" y1="617.3" x2="499.35" y2="620.7" stroke="#444" stroke-width="0.9"/>
<text x="489.92" y="630.6" font-size="9.3" textLength="18.82" lengthAdjust="spacingAndGlyphs">C3S</text>
<text x="488.18" y="640.7" font-size="9.3" textLength="22.34" lengthAdjust="spacingAndGlyphs">2022</text>
<text x="110.71" y="329.2" font-size="18" textLength="11.29" lengthAdjust="spacingAndGlyphs" font-weight="bold">c</text>
<text x="239.61" y="341.5" font-size="15.2" textLength="198.91" lengthAdjust="spacingAndGlyphs">Pakistan summer rainfall</text>
<text transform="translate(140.2,566) rotate(-90)" x="-0.77" y="0" font-size="15.2" textLength="168.78" lengthAdjust="spacingAndGlyphs">Quantile probability (%)</text>
<text x="324.39" y="656.5" font-size="14.8" textLength="29.64" lengthAdjust="spacingAndGlyphs">Year</text>
<line x1="171.7" y1="361.4" x2="195.8" y2="361.4" stroke="#0000ff" stroke-width="2.8"/>
<line x1="171.7" y1="377.5" x2="195.8" y2="377.5" stroke="#008000" stroke-width="2.8"/>
<line x1="171.1" y1="393.0" x2="196.2" y2="393.0" stroke="#ff0000" stroke-width="3.8"/>
<text x="203.11" y="364.9" font-size="10.2" textLength="214.96" lengthAdjust="spacingAndGlyphs">upper tercile, 2022: 67.5%, frac_inc=2.0</text>
<text x="203.11" y="380.7" font-size="10.2" textLength="222.03" lengthAdjust="spacingAndGlyphs">upper quintile, 2022: 52.5%, frac_inc=2.6</text>
<text x="203.11" y="395.9" font-size="10.2" textLength="217.09" lengthAdjust="spacingAndGlyphs">upper decile, 2022:, 35.0%, frac_inc=3.5</text>
</svg></body></html>
